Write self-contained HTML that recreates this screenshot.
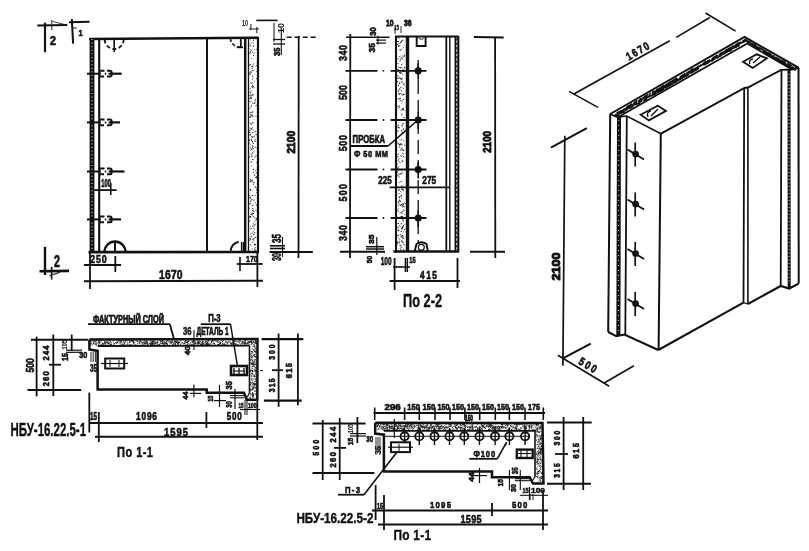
<!DOCTYPE html>
<html><head><meta charset="utf-8"><style>
html,body{margin:0;padding:0;background:#fff;width:809px;height:551px;overflow:hidden}
svg{display:block;will-change:transform}
text{font-family:"Liberation Sans",sans-serif;font-weight:bold;fill:#111;stroke:#111}
</style></head><body>
<svg width="809" height="551" viewBox="0 0 809 551" stroke="#111" stroke-linecap="butt">
<line x1="37.3" y1="25.4" x2="67.2" y2="25" stroke-width="2"/>
<line x1="45" y1="22.7" x2="45" y2="52.2" stroke-width="2.2"/>
<line x1="51.8" y1="20" x2="51.8" y2="30" stroke-width="0.9"/>
<line x1="52.7" y1="21.4" x2="64.5" y2="24.5" stroke-width="0.8"/>
<text transform="translate(50,44.5)" x="0" y="0" font-size="13.19" textLength="6.00" lengthAdjust="spacingAndGlyphs" stroke-width="0.6">2</text>
<line x1="69" y1="22.3" x2="89.5" y2="21.8" stroke-width="2"/>
<line x1="71.8" y1="19" x2="73.1" y2="43.6" stroke-width="2"/>
<line x1="73" y1="28" x2="77" y2="28" stroke-width="0.9"/>
<text transform="translate(78.6,36)" x="0" y="0" font-size="9.03" textLength="4.10" lengthAdjust="spacingAndGlyphs" stroke-width="0.6">1</text>
<line x1="89" y1="39" x2="258.5" y2="37.8" stroke-width="2.6"/>
<line x1="88.5" y1="252.2" x2="259" y2="252" stroke-width="2.7"/>
<rect x="89.6" y="38" width="4.800000000000011" height="214.5" fill="#111" stroke="none"/>
<line x1="92.0" y1="39" x2="92.0" y2="251.5" stroke="#fff" stroke-width="1.0" stroke-dasharray="1,2.6"/>
<line x1="99.2" y1="38" x2="99.2" y2="252" stroke-width="2.1"/>
<line x1="207" y1="38.5" x2="207" y2="252" stroke-width="2"/>
<line x1="245.2" y1="38" x2="245.2" y2="252" stroke-width="2.5"/>
<line x1="248.5" y1="38" x2="248.5" y2="252" stroke-width="1.3"/>
<path d="M251.8 71.4l0.5 -1.4M253.3 116.8l-1.4 0.0M249.8 131.2l-1.4 -1.3M252.5 214.4l-1.2 -0.9M253.9 239.9l0.2 -0.3M256.3 49.4l1.1 -0.7M250.5 64.4l-0.6 1.0M250.8 162.5l0.4 -0.4M253.3 52.8l-1.4 -0.9M254.3 129.9l-0.6 0.3M252.7 102.9l0.9 0.6M251.2 161.0l0.1 1.2M254.6 100.4l1.5 -1.2M252.4 199.6l-1.1 -0.0M249.8 180.8l0.8 0.2M255.6 105.9l0.6 0.3M253.6 136.0l1.1 1.4M252.8 180.0l-1.4 0.6M254.0 249.5l1.0 -0.7M252.2 180.9l-1.5 -0.1M250.7 64.3l-1.4 0.9M250.4 91.9l-0.3 1.2M250.1 134.5l0.2 1.2M255.2 222.2l-0.7 -0.3M252.0 226.5l1.5 -1.1M250.7 88.6l-0.9 -0.0M253.6 95.1l-1.6 -0.3M252.1 159.3l1.4 0.6M253.1 170.1l0.6 -1.4M255.8 204.5l1.2 1.0M252.2 123.9l-1.3 0.4M249.9 53.7l-0.9 -1.1M251.9 50.6l-1.6 -1.1M250.2 116.4l-1.5 1.2M253.8 70.9l-0.8 -0.5M252.0 65.5l1.1 1.6M252.8 141.8l-1.3 -1.3M251.9 95.5l1.1 -1.1M249.7 240.6l0.1 -1.1M253.3 45.2l0.1 1.5M255.5 186.7l-0.8 -0.4M250.7 202.8l0.1 0.9M251.8 86.7l1.0 1.6M255.5 210.0l1.0 0.8M251.1 149.0l-0.5 -1.5M249.7 98.6l-0.8 0.6M256.2 134.1l1.4 1.6M256.2 116.6l-0.9 -0.9M250.9 82.7l0.4 1.3M255.4 140.9l0.5 1.0M250.1 179.2l1.3 0.9M254.8 140.6l-1.0 0.9M251.8 208.9l1.5 -0.3M252.3 239.7l0.7 -1.1M250.4 71.5l1.3 1.0M250.5 214.3l1.5 0.5M252.0 155.5l-1.2 -1.6M256.3 176.9l0.1 1.4M252.5 223.9l1.0 -0.9M251.3 101.5l-0.8 0.3M251.3 128.1l-1.2 1.3M252.0 136.4l0.3 1.3M252.4 233.6l0.0 0.1M253.2 43.5l-0.2 -1.0M249.5 208.5l-1.0 -0.1M254.6 157.2l-0.6 0.1M253.4 205.4l-1.3 0.2M251.2 98.1l0.9 0.0M253.4 200.2l1.3 -0.2M253.8 146.4l0.0 0.6M252.7 152.3l-0.1 1.4M254.4 224.9l1.4 -0.8M253.4 239.0l1.1 -1.2M250.4 133.0l-1.4 -0.8M250.0 181.1l0.9 1.3M250.6 191.0l0.5 -1.1M255.7 244.1l-0.9 1.4M252.3 142.6l1.6 1.1M250.6 130.8l0.0 -0.5M250.9 106.9l0.7 -1.5M253.4 132.7l-1.5 -0.5M253.9 147.8l-1.4 1.6M255.0 245.0l-1.3 -0.8M249.8 204.3l-0.7 -1.2M252.5 232.3l1.0 -0.8M250.5 233.9l0.2 0.6M250.1 51.7l0.6 -0.2M250.0 238.0l0.4 1.0M250.1 220.6l-1.4 1.2M252.7 111.2l0.2 1.4M251.4 66.8l0.1 -0.8M250.3 73.6l-1.4 -1.0M251.7 104.0l0.8 -0.7M253.0 77.1l-0.5 -1.5M251.3 42.7l0.7 0.2M250.8 139.9l1.4 -1.3M255.2 130.9l-0.0 1.1M252.3 146.7l0.6 1.5M251.9 215.5l0.7 0.4M252.3 113.0l-1.4 -1.2M250.0 196.2l-0.8 -1.1M250.1 217.4l1.2 0.5M251.5 90.7l-0.7 -0.1M250.6 133.8l-0.8 1.5M256.3 155.2l-0.8 1.5M251.7 114.9l-1.6 -0.4M252.8 145.8l-1.0 0.0M249.5 95.4l-1.3 -0.3M249.8 44.3l-0.6 -0.9M253.6 151.4l0.8 0.5M254.5 225.4l-0.4 -0.6M256.4 71.1l0.7 0.5M249.8 216.2l1.3 0.4M254.6 211.3l-1.2 0.1M253.0 216.1l1.0 1.0M253.6 228.3l0.6 0.6M251.1 46.1l-1.2 -0.4M250.2 216.3l0.2 0.4M253.9 183.5l-0.0 -1.6M255.1 197.8l0.0 0.1M254.1 53.5l0.8 -0.8M250.0 95.7l0.7 -0.9M254.7 245.9l-0.0 -0.4M252.9 184.1l0.9 0.4M254.0 55.9l-1.1 -0.8M254.7 103.9l0.2 -1.6M249.9 96.3l0.6 0.6M254.2 101.0l0.1 -0.1M252.8 64.6l1.3 -1.0M256.3 237.5l-1.5 -0.1M255.2 244.3l-0.2 -0.7M251.0 239.5l-0.9 0.3M250.5 150.3l1.4 -1.2M255.2 147.1l1.2 0.7M251.1 229.4l-0.0 -1.5M249.5 143.5l-0.2 -0.6M250.5 112.2l-0.6 1.1M249.5 198.3l1.1 -1.2M256.0 190.3l1.3 -0.7M252.1 122.6l1.6 0.3M252.0 130.0l-0.7 -1.4M250.2 216.0l-0.7 1.4M251.2 95.7l0.0 -1.0M252.1 241.7l1.2 1.0M253.9 232.7l1.4 0.2M254.5 50.0l0.7 -0.2M254.8 175.8l-0.7 -1.4M256.0 66.4l-0.1 -0.5M251.6 195.8l1.5 -0.8M254.1 103.1l0.2 -0.3M250.7 73.7l-0.9 1.3M253.0 86.0l1.3 1.6M252.6 69.0l-1.0 -1.3M251.9 58.8l-0.8 -0.8M253.5 227.2l0.8 -0.3M252.4 150.4l-0.4 -0.5M249.9 98.2l1.5 -1.2M253.0 172.7l1.2 -0.9M251.4 92.0l-0.3 -0.2M256.2 219.0l1.2 -1.5M249.7 189.6l1.3 -0.1M253.6 39.5l-0.3 1.4M255.3 220.4l1.5 -0.8M250.3 72.2l0.1 0.6M256.1 192.1l0.5 0.8M252.7 156.1l-1.5 0.9M251.1 234.1l0.5 -0.6M250.4 92.8l0.4 0.6M250.3 54.4l0.1 0.3M252.2 86.8l0.3 -1.6M251.6 136.9l1.5 0.5M255.7 140.0l-0.8 -0.8M256.2 188.5l-0.6 -1.5M253.0 182.1l-0.3 -0.8M254.2 235.2l-0.9 -1.5M251.9 128.4l0.6 -1.0M255.1 195.8l0.0 -0.9M256.3 105.4l1.0 -0.9M251.1 200.3l-0.7 1.4M253.0 79.1l-0.9 -0.3M254.2 240.2l-1.1 -0.3M251.0 245.5l-1.1 -1.4M249.9 122.7l1.3 1.2M254.6 250.5l1.4 -0.5M250.8 237.4l0.8 -1.5M254.2 119.6l-0.4 -0.5M250.7 40.1l-0.7 -0.5M256.2 65.7l1.5 -0.9M252.0 213.3l1.0 -0.2M249.8 139.6l-0.4 1.3M250.9 116.5l1.3 -1.5M252.4 211.2l0.9 -1.5M249.7 52.7l1.3 -0.8M254.7 229.5l-0.5 -0.7M256.2 170.0l-0.8 0.7M251.7 97.8l-1.6 0.8M255.9 173.6l1.4 -1.5M251.1 140.0l1.5 1.5M252.2 92.6l-0.2 -0.0M256.0 78.2l1.0 0.8M255.3 202.9l0.3 -0.6M251.7 116.0l0.9 -1.3M250.9 198.7l-0.8 -1.4M249.7 156.4l-0.6 1.5M255.7 248.4l-0.8 -1.3M250.2 144.9l0.7 -0.2M251.1 127.7l0.4 0.6M254.7 218.6l0.5 -1.2M255.4 101.6l0.2 -0.4M254.7 81.6l-0.8 -0.8M250.6 226.5l0.3 -0.6M252.3 249.4l0.0 -0.9M255.2 177.7l1.6 -1.3M252.8 212.7l1.1 1.3M249.8 101.6l-1.2 -1.0M256.3 162.8l1.4 -0.4M255.6 134.5l-0.8 0.9M256.1 61.9l0.3 0.4M251.0 117.5l-1.1 -0.9M251.3 166.3l0.5 -0.9M249.6 108.7l0.6 -1.0M251.7 82.5l0.9 0.2" stroke-width="0.9" fill="none"/>
<line x1="258" y1="37" x2="258" y2="253" stroke-width="2.2"/>
<path d="M104.7,39.5 A9.5,9.5 0 0 0 123.7,39.5" fill="none" stroke-width="1.8" stroke-dasharray="4,2.5"/>
<line x1="114.2" y1="39" x2="114.2" y2="52" stroke-width="1.6"/>
<path d="M104.5,252 A10.5,10.5 0 0 1 125.5,252" fill="none" stroke-width="2.3" />
<line x1="115" y1="241.8" x2="115" y2="252" stroke-width="2"/>
<path d="M230.4,38.5 A10,9 0 0 0 240.2,47.3" fill="none" stroke-width="1.6" stroke-dasharray="3.5,2"/>
<line x1="240.8" y1="38" x2="240.8" y2="47.5" stroke-width="1.8"/>
<line x1="237" y1="47.3" x2="243" y2="47.3" stroke-width="1.8"/>
<path d="M230.6,252 A10,10 0 0 1 238.6,241.7" fill="none" stroke-width="2" />
<line x1="241.7" y1="242" x2="241.7" y2="252" stroke-width="1.6"/>
<line x1="243.5" y1="242" x2="243.5" y2="252" stroke-width="1.1"/>
<line x1="87" y1="73.7" x2="101" y2="73.7" stroke-width="2"/>
<line x1="110" y1="73.7" x2="121.7" y2="73.7" stroke-width="2.2"/>
<path d="M99.5,70.7 H104.5 M99.5,76.5 H104 M104.8,73.7 H106.3 M107,70.7 H110 Q111.6,70.7 111.6,72.2 V75.0 Q111.6,76.5 110,76.5 H107 M108.5,73.7 H111.5" fill="none" stroke-width="2" />
<line x1="87" y1="122.4" x2="101" y2="122.4" stroke-width="2"/>
<line x1="110" y1="122.4" x2="120" y2="122.4" stroke-width="2.2"/>
<path d="M99.5,119.4 H104.5 M99.5,125.2 H104 M104.8,122.4 H106.3 M107,119.4 H110 Q111.6,119.4 111.6,120.9 V123.7 Q111.6,125.2 110,125.2 H107 M108.5,122.4 H111.5" fill="none" stroke-width="2" />
<line x1="87" y1="171.5" x2="101" y2="171.5" stroke-width="2"/>
<line x1="110" y1="171.5" x2="124.5" y2="171.5" stroke-width="2.2"/>
<path d="M99.5,168.5 H104.5 M99.5,174.3 H104 M104.8,171.5 H106.3 M107,168.5 H110 Q111.6,168.5 111.6,170.0 V172.8 Q111.6,174.3 110,174.3 H107 M108.5,171.5 H111.5" fill="none" stroke-width="2" />
<line x1="87" y1="219.4" x2="101" y2="219.4" stroke-width="2"/>
<line x1="110" y1="219.4" x2="121" y2="219.4" stroke-width="2.2"/>
<path d="M99.5,216.4 H104.5 M99.5,222.20000000000002 H104 M104.8,219.4 H106.3 M107,216.4 H110 Q111.6,216.4 111.6,217.9 V220.70000000000002 Q111.6,222.20000000000002 110,222.20000000000002 H107 M108.5,219.4 H111.5" fill="none" stroke-width="2" />
<text transform="translate(101.3,187.2)" x="0" y="0" font-size="10.00" textLength="9.50" lengthAdjust="spacingAndGlyphs" stroke-width="0.6">100</text>
<line x1="94.4" y1="190.1" x2="116.6" y2="190.1" stroke-width="1.8"/>
<line x1="110.8" y1="183" x2="110.8" y2="195" stroke-width="1.6"/>
<line x1="84" y1="265" x2="121" y2="265" stroke-width="1.8"/>
<line x1="90" y1="253" x2="90" y2="289" stroke-width="1.8"/>
<line x1="115.3" y1="256" x2="115.3" y2="272" stroke-width="1.8"/>
<text transform="translate(90.3,263.3) scale(0.8,1)" x="0.00" y="0" font-size="10.97" textLength="20.37" lengthAdjust="spacing" stroke-width="0.6">250</text>
<line x1="84" y1="281.3" x2="263" y2="280.7" stroke-width="1.9"/>
<line x1="257.4" y1="252" x2="257.4" y2="287" stroke-width="1.8"/>
<text transform="translate(159,279) scale(0.8,1)" x="0.00" y="0" font-size="12.92" textLength="29.50" lengthAdjust="spacing" stroke-width="0.6">1670</text>
<line x1="236.7" y1="264" x2="262.7" y2="264" stroke-width="1.8"/>
<line x1="240" y1="257" x2="240" y2="271" stroke-width="1.6"/>
<text transform="translate(246,261.5)" x="0" y="0" font-size="9.44" textLength="11.80" lengthAdjust="spacingAndGlyphs" stroke-width="0.6">170</text>
<line x1="298.7" y1="36" x2="298.5" y2="258" stroke-width="1.8"/>
<line x1="286.7" y1="37.3" x2="317" y2="37.3" stroke-width="1.4" stroke-dasharray="5,3"/>
<line x1="269.5" y1="252" x2="312.8" y2="252" stroke-width="2"/>
<text transform="translate(295.4,153.6) rotate(-90)" x="0" y="0" font-size="11.39" textLength="22.70" lengthAdjust="spacingAndGlyphs" stroke-width="0.9">2100</text>
<line x1="256.3" y1="20.4" x2="277.6" y2="20.4" stroke-width="1.6"/>
<text transform="translate(242,26)" x="0" y="0" font-size="9.72" textLength="6.00" lengthAdjust="spacingAndGlyphs" stroke-width="0">10</text>
<line x1="250.9" y1="24" x2="250.9" y2="30" stroke-width="1"/>
<line x1="256.8" y1="27" x2="256.8" y2="33" stroke-width="1"/>
<line x1="249" y1="29" x2="259" y2="29" stroke-width="0.9"/>
<line x1="274" y1="23" x2="274" y2="42" stroke-width="1"/>
<line x1="281.3" y1="28" x2="281.3" y2="55" stroke-width="1.1"/>
<line x1="273" y1="39.5" x2="285" y2="39.5" stroke-width="1.3"/>
<line x1="273" y1="44" x2="285" y2="44" stroke-width="1.3"/>
<text transform="translate(280,56) rotate(-90)" x="0" y="0" font-size="9.72" textLength="8.50" lengthAdjust="spacingAndGlyphs" stroke-width="0.6">35</text>
<text transform="translate(284,33) rotate(-90)" x="0" y="0" font-size="9.72" textLength="10.00" lengthAdjust="spacingAndGlyphs" stroke-width="0">10</text>
<text transform="translate(281,243) rotate(-90)" x="0" y="0" font-size="12.50" textLength="9.00" lengthAdjust="spacingAndGlyphs" stroke-width="0.6">35</text>
<text transform="translate(281,261) rotate(-90)" x="0" y="0" font-size="12.50" textLength="8.00" lengthAdjust="spacingAndGlyphs" stroke-width="0.6">30</text>
<line x1="282.5" y1="237" x2="282.5" y2="257" stroke-width="1.1"/>
<line x1="270" y1="245.8" x2="285" y2="245.8" stroke-width="1.6"/>
<line x1="270" y1="248.5" x2="285" y2="248.5" stroke-width="1.6"/>
<line x1="45" y1="246.8" x2="45" y2="275" stroke-width="2.4"/>
<line x1="39.5" y1="271.3" x2="69" y2="270.9" stroke-width="2.6"/>
<line x1="51.6" y1="266.8" x2="51.6" y2="279.5" stroke-width="1.6"/>
<line x1="49.5" y1="275.8" x2="60" y2="272.2" stroke-width="1.2"/>
<text transform="translate(54,267.2)" x="0" y="0" font-size="15.69" textLength="6.00" lengthAdjust="spacingAndGlyphs" stroke-width="0.6">2</text>
<line x1="395" y1="36.5" x2="458.4" y2="36.5" stroke-width="2.2"/>
<line x1="393.4" y1="251.5" x2="458.5" y2="251.5" stroke-width="2.5"/>
<line x1="396" y1="36" x2="396" y2="252.5" stroke-width="2.1"/>
<path d="M397.7 59.5l-0.3 0.2M401.9 57.4l-1.1 0.6M400.2 98.2l-0.6 1.5M399.5 158.4l-0.5 -0.3M403.5 249.8l-0.4 -1.0M402.5 81.3l-1.6 1.3M400.3 212.3l-0.3 1.2M400.6 72.5l-1.6 0.2M401.9 231.3l-1.3 0.4M399.9 145.2l-1.1 -0.7M401.0 234.7l-1.3 -0.0M403.1 243.5l-1.0 -1.2M404.1 245.3l-0.1 -1.4M404.0 120.4l1.3 0.4M403.2 72.1l0.9 -0.9M400.2 217.8l1.1 -1.0M398.8 122.9l0.1 -0.4M398.1 90.5l0.7 1.3M397.5 157.5l0.8 -1.5M403.3 63.0l0.3 0.2M401.8 103.1l-0.3 0.3M400.3 178.0l-0.2 -0.2M397.4 169.5l-0.0 -0.8M402.8 203.7l-0.1 -1.0M400.7 60.8l-1.2 -0.2M397.9 131.9l0.0 -1.5M401.8 55.5l0.7 0.9M400.9 49.5l0.0 -0.4M404.1 66.9l1.1 1.6M402.5 211.2l-1.0 1.5M400.8 241.3l1.3 -1.1M403.0 235.7l-1.4 -0.5M402.7 71.7l1.3 -0.7M403.2 68.5l0.0 1.3M398.7 93.9l0.0 -0.6M397.5 76.7l-1.1 1.4M402.2 228.3l-1.1 0.9M398.0 150.8l0.4 -0.4M403.6 156.0l0.3 1.2M398.0 249.0l0.4 -0.3M403.0 94.3l1.6 0.2M399.8 200.5l-0.2 -1.0M402.6 48.3l1.0 -0.8M401.9 247.1l0.3 0.5M399.5 38.4l-1.5 -1.1M401.7 129.8l0.0 1.3M398.2 86.3l0.5 -1.5M397.2 113.4l-1.3 -0.5M398.8 162.0l0.3 -0.9M401.8 138.9l-1.2 1.4M399.0 69.7l-1.3 0.4M403.6 204.2l-0.3 -0.8M397.3 175.1l0.2 -0.5M401.9 132.3l1.4 0.7M399.0 230.0l-1.5 0.1M400.2 88.5l-1.4 0.9M397.3 155.1l1.4 -1.1M398.7 167.2l0.0 0.5M403.1 75.1l-0.6 -0.6M397.6 227.0l0.9 0.7M397.2 217.4l0.8 -0.1M402.6 134.2l-0.9 -1.3M398.9 46.2l-0.5 0.8M402.3 217.6l0.7 -0.7M401.2 130.7l0.9 0.1M399.1 174.4l1.5 -0.9M403.6 41.2l-0.8 -0.8M402.6 238.7l0.8 -0.6M403.6 107.8l-0.8 1.3M401.8 185.2l0.5 1.5M400.6 216.4l0.6 1.1M400.4 192.0l0.2 -0.6M398.7 170.3l-1.4 1.3M398.3 43.7l-1.3 1.4M399.7 68.1l-1.5 -1.5M402.3 172.7l0.6 0.8M397.7 163.5l-0.4 1.0M403.2 227.4l-1.4 1.2M403.9 238.7l-1.3 -0.9M398.0 45.3l1.1 1.0M401.8 213.3l0.4 -0.7M397.9 58.8l0.8 -0.9M399.5 128.1l-1.5 -0.8M399.3 190.1l-0.4 -0.6M404.2 145.0l1.1 0.4M397.4 125.7l-0.2 0.9M399.7 187.7l0.1 -0.9M403.5 57.3l1.0 -1.1M397.2 80.9l0.8 1.5M397.2 142.3l-0.0 0.9M398.5 143.1l-0.5 1.1M399.1 238.6l-0.7 -0.9M402.3 143.9l-1.2 0.4M397.8 205.4l0.6 0.9M401.8 113.6l-0.3 -0.3M403.7 56.3l1.2 -1.5M398.7 93.9l1.3 0.0M400.0 225.8l-0.9 -0.1M401.1 198.3l0.8 0.5M399.7 107.4l-1.1 1.1M402.0 195.7l-1.1 -0.2M402.8 161.1l-1.2 -0.1M403.7 88.6l-1.0 -0.6M402.3 217.3l-1.1 -1.1M399.0 107.4l0.1 -1.1M399.6 78.2l1.5 0.7M397.9 242.5l-1.3 -0.4M404.4 206.9l0.7 -0.2M398.6 173.6l-1.3 -0.9M400.0 45.2l-0.3 0.9M402.3 144.4l0.4 -0.1M398.2 166.3l-0.3 0.8M403.8 129.4l0.2 0.8M400.3 86.6l0.7 1.2M402.9 186.8l1.1 0.6M401.9 134.5l-0.6 0.4M397.9 127.2l0.9 0.7M401.8 91.1l-0.2 -0.1M401.7 125.0l0.6 1.4M398.5 177.1l0.9 -0.4M400.8 245.1l-1.5 0.1M398.4 204.1l1.4 0.1M397.9 160.1l0.1 0.7M400.9 173.8l1.1 0.1M400.2 239.4l-0.9 0.6M400.1 200.1l-1.2 1.6M399.8 50.0l-0.7 -0.3M397.3 126.9l-0.3 0.6M399.8 94.3l-0.9 0.8M404.1 150.0l-0.9 1.0M400.1 83.1l-1.2 0.9M403.1 172.8l-0.1 0.2M398.8 242.8l-0.5 0.4M403.2 211.4l-0.1 -0.7M401.2 64.6l1.1 -0.5M403.4 94.8l-0.4 -0.8M400.3 77.5l-1.6 0.7M399.3 90.1l-0.6 -0.1M400.3 173.4l0.5 -0.4M404.0 219.6l-1.4 1.0M403.8 204.6l-1.2 1.1M401.8 41.2l-1.6 1.4M402.0 91.1l-1.3 -1.1M398.9 203.0l-0.5 -1.1M403.8 206.2l-1.1 1.3M401.6 204.0l0.5 1.3M403.0 216.2l-1.0 0.6M401.1 195.7l-0.2 1.2M401.3 94.2l-0.9 -1.2M400.8 50.4l-0.1 -1.1M400.8 143.9l0.1 1.2M397.2 216.7l-0.1 0.2M402.1 216.6l-0.4 -0.3M404.2 54.0l0.4 0.4M397.4 167.6l0.6 1.4M399.6 246.6l0.0 -0.0M403.8 45.2l0.7 0.4M399.7 221.1l-0.4 -0.1M401.0 201.7l-0.9 -0.2M400.3 155.7l1.0 -0.7M403.2 123.8l0.0 -0.7M400.9 245.2l0.5 0.9M399.6 105.4l-0.6 0.3M401.8 204.6l-1.5 0.7M403.7 153.9l-1.4 -0.6M397.2 78.4l1.3 0.3M402.0 205.7l1.3 0.4M401.7 171.2l0.6 0.3M402.2 83.2l0.5 -0.1M402.8 59.5l-1.0 -1.5M402.9 232.2l0.5 -0.4M403.2 205.1l0.2 -0.8M399.4 127.6l-0.6 -0.2M401.9 236.4l-1.4 0.2M397.5 63.3l1.0 0.2M403.9 132.9l-1.6 -0.4M401.5 237.3l1.5 -0.1M400.2 59.7l0.5 -0.9M398.3 41.3l-1.6 0.6M398.1 243.3l-1.3 1.2M398.1 41.8l0.7 -0.8M402.6 77.8l-1.4 0.9M402.4 219.8l0.7 -1.3M401.8 188.7l-0.1 1.4M399.1 242.9l0.7 -1.6M397.3 176.3l1.0 -1.3M399.5 193.0l-1.1 1.2M400.8 50.7l-0.4 0.2M400.4 181.8l-1.1 1.0M399.9 175.0l0.4 -0.3M400.0 205.1l1.4 0.9M401.3 100.1l-1.4 1.5M402.3 213.8l-0.5 0.3M404.3 214.6l0.3 -0.6M400.3 226.7l-0.4 0.6M401.6 228.4l1.0 -0.7M397.2 93.9l-0.2 0.3M403.2 226.6l-1.5 1.1M403.1 222.3l0.2 -0.7M403.4 209.5l0.6 1.3M399.7 56.1l0.2 1.0M398.7 197.4l1.4 -0.9M401.6 182.0l-0.1 -0.9M399.1 197.6l0.9 -0.1M397.8 209.4l0.9 -0.9M401.4 228.6l1.2 0.1M400.7 163.2l-1.0 -1.0M398.5 187.0l-0.4 0.2M400.1 147.9l-1.1 -1.5M404.5 117.5l-1.3 0.4M402.9 71.2l0.3 -0.5M401.0 42.4l-1.5 1.6M403.5 141.3l0.2 -0.8M402.9 128.5l1.4 0.9M403.2 242.7l-0.8 -1.5M398.7 76.4l-1.3 -1.4M401.3 223.0l-0.1 1.4M403.8 51.6l0.3 -0.3M398.1 241.9l-0.8 0.2M401.9 241.2l0.5 -0.3M400.5 71.9l1.5 1.6M398.8 46.2l-0.8 -0.5M403.8 230.2l1.1 -1.4M402.9 188.8l0.5 1.6M397.6 68.8l0.8 1.4M402.1 101.5l0.3 0.8M398.0 106.8l-0.8 -1.2M400.7 73.8l-0.8 -1.1M402.1 40.7l0.7 -1.0M397.5 235.1l-0.9 1.4M403.5 226.9l-1.2 -0.2M397.9 235.4l1.1 0.4M400.5 110.2l1.0 -0.1M401.8 68.3l-0.9 -1.4M402.4 155.6l-1.1 1.2M399.1 125.5l-1.1 -0.7M403.3 109.1l-1.1 -0.0M399.5 229.9l-1.2 1.5M397.6 228.2l0.5 -0.9M400.7 98.8l-0.8 -1.0M399.9 248.6l1.6 1.4M397.9 99.5l1.3 -1.4M402.5 100.4l1.5 -1.5M403.1 110.4l-1.2 -1.6M403.3 149.9l-1.0 -0.2M403.9 84.4l0.2 -1.2M398.5 201.7l0.7 -1.0M397.8 56.6l0.3 -0.0M399.2 81.8l0.4 0.7M403.1 161.9l-1.0 -1.4M402.5 124.7l0.7 -1.4M403.1 109.2l1.1 1.2M400.8 41.3l1.3 -0.1M403.6 94.6l-1.0 1.1M399.9 72.7l-0.4 0.3M397.2 148.5l-0.2 0.1M398.1 189.9l1.0 1.2M399.5 189.1l-0.4 0.8M397.6 223.5l1.5 -0.0M400.9 150.7l0.1 -1.5M404.3 85.5l-1.0 -1.3M399.0 211.6l-1.5 -1.3M402.3 79.5l-1.5 0.3M401.4 149.1l0.6 -1.3M403.5 190.4l-1.5 -1.2M400.8 144.4l-0.7 -1.2M400.2 67.1l0.3 1.2M398.3 159.7l0.8 -1.1M403.2 237.2l-0.4 -0.3M403.3 149.7l-0.3 1.4M402.9 109.9l-0.8 -0.5M400.4 246.5l1.0 1.3M403.1 218.1l-1.4 0.1M404.2 236.5l-0.8 -0.2M401.8 115.4l0.1 -1.4M400.4 145.3l-1.5 -1.2M404.3 203.0l1.4 0.4M403.1 225.9l1.2 -1.5M401.9 94.5l0.6 -0.7" stroke-width="0.9" fill="none"/>
<line x1="407.5" y1="36.5" x2="407.5" y2="251.5" stroke-width="3.4"/>
<line x1="446.3" y1="36.5" x2="446.3" y2="251.5" stroke-width="1.8"/>
<line x1="449.8" y1="36.5" x2="449.8" y2="251.5" stroke-width="1.4"/>
<line x1="455.4" y1="36.5" x2="455.4" y2="251.5" stroke-width="1.8"/>
<line x1="458.3" y1="36" x2="458.3" y2="252.5" stroke-width="2.1"/>
<line x1="456.9" y1="38" x2="456.9" y2="250" stroke-width="1.2" stroke-dasharray="2.5,2"/>
<line x1="350.3" y1="34" x2="350" y2="258" stroke-width="1.8"/>
<line x1="346" y1="37.3" x2="389.5" y2="37.3" stroke-width="1.6"/>
<line x1="345.5" y1="70.8" x2="377.5" y2="70.8" stroke-width="1.8"/>
<line x1="390.6" y1="70.8" x2="426.5" y2="70.8" stroke-width="1.8"/>
<circle cx="418.2" cy="70.8" r="3" fill="#111" stroke-width="1.2"/>
<line x1="418.2" y1="63.3" x2="418.2" y2="79.8" stroke-width="1.6"/>
<circle cx="383.5" cy="70.8" r="0.9" fill="#111" stroke="none"/>
<line x1="345.5" y1="120" x2="377.5" y2="120" stroke-width="1.8"/>
<line x1="390.6" y1="120" x2="426.5" y2="120" stroke-width="1.8"/>
<circle cx="418.2" cy="120" r="3" fill="#111" stroke-width="1.2"/>
<line x1="418.2" y1="112.5" x2="418.2" y2="129" stroke-width="1.6"/>
<circle cx="383.5" cy="120" r="0.9" fill="#111" stroke="none"/>
<line x1="345.5" y1="169.5" x2="377.5" y2="169.5" stroke-width="1.8"/>
<line x1="390.6" y1="169.5" x2="426.5" y2="169.5" stroke-width="1.8"/>
<circle cx="418.2" cy="169.5" r="3" fill="#111" stroke-width="1.2"/>
<line x1="418.2" y1="162.0" x2="418.2" y2="178.5" stroke-width="1.6"/>
<circle cx="383.5" cy="169.5" r="0.9" fill="#111" stroke="none"/>
<line x1="345.5" y1="218" x2="377.5" y2="218" stroke-width="1.8"/>
<line x1="390.6" y1="218" x2="426.5" y2="218" stroke-width="1.8"/>
<circle cx="418.2" cy="218" r="3" fill="#111" stroke-width="1.2"/>
<line x1="418.2" y1="210.5" x2="418.2" y2="227" stroke-width="1.6"/>
<circle cx="383.5" cy="218" r="0.9" fill="#111" stroke="none"/>
<line x1="340" y1="251.8" x2="385" y2="251.8" stroke-width="2"/>
<line x1="418.2" y1="60" x2="418.2" y2="243" stroke-width="1.3" stroke-dasharray="14,6"/>
<path d="M416.7,37 L416.7,46 L425.6,46 L425.6,37" fill="none" stroke-width="1.9" />
<path d="M418.5,37.5 A3,3 0 0 0 424,37.5" fill="none" stroke-width="1" />
<path d="M414.5,252 L416.5,244 Q421.5,240.5 426.5,244 L428,252" fill="none" stroke-width="1.9" />
<circle cx="421.3" cy="247.3" r="3" fill="none" stroke-width="1.2"/>
<text transform="translate(347.2,61) rotate(-90) scale(0.8,1)" x="0.00" y="0" font-size="11.11" textLength="20.00" lengthAdjust="spacing" stroke-width="0.6">340</text>
<text transform="translate(347.2,100) rotate(-90)" x="0" y="0" font-size="11.11" textLength="15.00" lengthAdjust="spacingAndGlyphs" stroke-width="0.6">500</text>
<text transform="translate(347.2,151.3) rotate(-90) scale(0.8,1)" x="0.00" y="0" font-size="11.11" textLength="20.38" lengthAdjust="spacing" stroke-width="0.6">500</text>
<text transform="translate(347.2,201.6) rotate(-90) scale(0.8,1)" x="0.00" y="0" font-size="11.11" textLength="22.00" lengthAdjust="spacing" stroke-width="0.6">500</text>
<text transform="translate(347.2,241) rotate(-90) scale(0.8,1)" x="0.00" y="0" font-size="11.11" textLength="20.00" lengthAdjust="spacing" stroke-width="0.6">340</text>
<text transform="translate(352.6,143.3)" x="0" y="0" font-size="10.14" textLength="32.40" lengthAdjust="spacingAndGlyphs" stroke-width="0.6">ПРОБКА</text>
<line x1="350" y1="146" x2="388" y2="146" stroke-width="1.8"/>
<line x1="388" y1="146" x2="418" y2="120" stroke-width="1.6"/>
<text transform="translate(354,156.7) scale(0.8,1)" x="0.00" y="0" font-size="9.31" textLength="42.50" lengthAdjust="spacing" stroke-width="0.6">Ф 50 ММ</text>
<text transform="translate(378.3,183.9)" x="0" y="0" font-size="10.00" textLength="13.40" lengthAdjust="spacingAndGlyphs" stroke-width="0.6">225</text>
<text transform="translate(422.3,183.9)" x="0" y="0" font-size="10.83" textLength="13.90" lengthAdjust="spacingAndGlyphs" stroke-width="0.6">275</text>
<line x1="389.5" y1="187.3" x2="449.5" y2="187.3" stroke-width="1.8"/>
<text transform="translate(491.4,152.7) rotate(-90)" x="0" y="0" font-size="11.25" textLength="21.70" lengthAdjust="spacingAndGlyphs" stroke-width="0.9">2100</text>
<line x1="495.1" y1="36.9" x2="495.3" y2="258" stroke-width="1.8"/>
<line x1="473.9" y1="36.9" x2="503.6" y2="37.5" stroke-width="2"/>
<line x1="470" y1="251.8" x2="505" y2="251.8" stroke-width="2"/>
<text transform="translate(386,25.8)" x="0" y="0" font-size="9.44" textLength="7.60" lengthAdjust="spacingAndGlyphs" stroke-width="0.8">10</text>
<text transform="translate(394,30)" x="0" y="0" font-size="6.94" textLength="5.00" lengthAdjust="spacingAndGlyphs" stroke-width="0.3">15</text>
<text transform="translate(404,26.3)" x="0" y="0" font-size="8.75" textLength="7.60" lengthAdjust="spacingAndGlyphs" stroke-width="0.8">36</text>
<line x1="395" y1="27" x2="395" y2="34" stroke-width="0.9"/>
<line x1="401" y1="26" x2="401" y2="33" stroke-width="0.9"/>
<text transform="translate(375.6,35.7) rotate(-90)" x="0" y="0" font-size="8.19" textLength="8.40" lengthAdjust="spacingAndGlyphs" stroke-width="0.6">30</text>
<text transform="translate(375.1,52.5) rotate(-90)" x="0" y="0" font-size="8.89" textLength="9.40" lengthAdjust="spacingAndGlyphs" stroke-width="0.6">35</text>
<line x1="378" y1="35.7" x2="378" y2="44.6" stroke-width="1.2"/>
<line x1="376" y1="40.1" x2="386" y2="40.1" stroke-width="1.2"/>
<line x1="376" y1="43.1" x2="386" y2="43.1" stroke-width="1.2"/>
<text transform="translate(373.7,244.1) rotate(-90)" x="0" y="0" font-size="7.08" textLength="9.50" lengthAdjust="spacingAndGlyphs" stroke-width="0.6">35</text>
<text transform="translate(372.4,263.2) rotate(-90)" x="0" y="0" font-size="7.08" textLength="7.60" lengthAdjust="spacingAndGlyphs" stroke-width="0.6">50</text>
<line x1="376.8" y1="237" x2="376.8" y2="255" stroke-width="1.2"/>
<line x1="366" y1="246.7" x2="384" y2="246.7" stroke-width="1.5"/>
<line x1="366" y1="249" x2="384" y2="249" stroke-width="1.5"/>
<text transform="translate(380.7,265.1)" x="0" y="0" font-size="11.53" textLength="10.80" lengthAdjust="spacingAndGlyphs" stroke-width="0.6">100</text>
<text transform="translate(409.3,263.2)" x="0" y="0" font-size="8.89" textLength="6.30" lengthAdjust="spacingAndGlyphs" stroke-width="0.6">15</text>
<line x1="393" y1="267" x2="410" y2="267" stroke-width="1.6"/>
<line x1="405.4" y1="258" x2="405.4" y2="272" stroke-width="1.5"/>
<line x1="407.3" y1="258" x2="407.3" y2="272" stroke-width="1.5"/>
<line x1="389.6" y1="281" x2="460" y2="281" stroke-width="2"/>
<line x1="394.6" y1="258" x2="394.6" y2="290" stroke-width="1.8"/>
<line x1="457.5" y1="258" x2="457.5" y2="288" stroke-width="1.8"/>
<text transform="translate(420,278.5) scale(0.8,1)" x="0.00" y="0" font-size="10.42" textLength="21.25" lengthAdjust="spacing" stroke-width="0.6">415</text>
<text transform="translate(403,307)" x="0" y="0" font-size="18.06" textLength="39.00" lengthAdjust="spacingAndGlyphs" stroke-width="0.4">По 2-2</text>
<polyline points="610.2,114 744.5,37 798.9,67.9" fill="none" stroke-width="2.0"/>
<polyline points="617.5,117.5 747.2,43.5 792,69.5" fill="none" stroke-width="1.8"/>
<path d="M686.5 75.8l2.7 -1.9M682.5 76.4l3.4 -2.3M654.8 93.1l1.6 -0.7M739.9 43.6l1.9 -1.1M683.6 74.7l1.6 -1.5M652.6 93.4l1.9 -1.5M626.0 109.3l3.1 -1.6M689.5 73.1l1.7 -0.7M674.9 81.1l2.6 -1.5M654.3 91.8l1.8 -1.0M664.9 87.1l1.3 -1.0M727.1 50.2l2.5 -1.4M653.2 95.4l1.9 -0.7M633.6 102.9l3.2 -1.9M622.0 110.9l2.3 -0.9M627.7 106.9l3.4 -1.5M634.0 103.8l2.1 -0.9M696.0 70.0l3.1 -1.7M711.8 60.6l3.0 -1.7M717.7 57.0l3.3 -2.5M728.0 49.0l3.0 -1.5M680.8 79.2l2.5 -1.6M717.9 57.5l2.6 -1.7M673.6 81.6l2.9 -2.0M665.8 86.4l2.1 -1.5M718.3 57.1l2.4 -1.4M637.8 101.5l1.6 -0.8M689.8 71.0l3.3 -2.2M725.6 52.9l3.4 -2.4M671.4 84.5l1.3 -1.5M688.5 73.1l3.3 -1.4M686.2 76.2l2.4 -1.4M704.1 63.8l2.1 -1.0M661.7 90.3l2.8 -1.5M626.8 108.1l2.2 -1.1M690.6 73.3l3.4 -2.0M672.4 82.8l3.5 -2.2M684.7 76.5l1.7 -1.2M743.2 42.6l2.4 -2.0M732.1 48.7l3.1 -1.0M730.8 48.6l1.6 -1.3M681.5 77.2l1.7 -1.5M697.3 68.5l2.1 -0.4M696.9 66.7l2.2 -0.8M655.1 93.1l1.3 -1.1M725.0 52.4l2.8 -2.1M679.8 78.3l1.9 -0.8M685.3 76.8l2.6 -1.6M629.0 105.9l3.0 -2.3M626.2 107.5l2.4 -0.9M695.5 70.2l1.4 -1.6M715.2 57.2l2.9 -1.9M635.7 102.5l1.5 -0.2M690.4 71.5l2.3 -1.5M622.9 112.5l2.6 -0.7M672.4 82.9l1.8 -1.8M737.0 46.3l2.0 -0.5M721.1 53.8l2.6 -0.7M680.5 79.4l1.8 -1.2M708.1 60.9l2.0 -0.5M678.6 79.9l1.8 -1.6M660.5 88.1l3.4 -2.3M687.2 72.6l2.5 -1.6M666.1 84.4l1.6 -0.4M659.7 88.7l1.7 -1.3M643.9 96.9l2.7 -1.8M635.5 104.5l1.5 -1.2M723.4 51.9l2.3 -0.7M719.5 54.3l2.1 -0.8M665.1 88.4l1.8 -0.3M679.9 77.1l2.3 -1.9M706.6 61.9l3.3 -1.7M661.9 87.5l2.6 -2.0M728.3 49.1l2.4 -1.3M650.6 96.0l2.1 -1.0M688.4 72.5l2.2 -1.9M638.7 103.2l2.0 -0.9M628.8 107.7l2.1 -1.2M652.0 92.4l2.0 -1.6M631.6 106.8l1.9 -1.2M734.1 47.8l3.2 -1.3M630.9 105.3l1.4 -0.5M701.2 65.4l2.2 -1.0M705.7 62.5l3.1 -2.0M696.2 67.6l1.6 -0.2M711.1 60.8l1.4 -1.5M634.5 102.9l2.0 -1.3M618.7 112.4l2.7 -2.0M724.7 52.6l2.9 -2.0M671.9 83.4l2.1 -2.0M724.3 53.4l1.9 -1.8M726.6 51.5l1.4 -1.2M629.9 108.0l1.8 -0.3M712.0 58.3l2.8 -1.8M713.1 60.1l1.9 -1.7M738.5 44.2l3.3 -1.6M711.9 60.8l2.7 -1.6M622.1 112.1l2.2 -1.3M735.7 44.9l3.0 -2.4M707.2 63.4l1.9 -1.0M741.8 42.9l2.5 -1.8M621.6 111.0l2.2 -1.7M654.0 91.6l2.8 -1.3M644.7 97.3l2.4 -1.5M737.0 44.8l2.0 -0.5M633.1 105.2l2.0 -0.6M686.9 75.0l1.7 -0.7M692.8 70.5l3.0 -1.2M628.6 106.7l2.1 -1.7M621.4 110.8l1.7 -0.7M672.1 81.1l2.0 -1.2M661.0 87.7l1.5 -1.6M744.9 41.4l1.5 -0.5M743.1 41.9l1.5 -0.9M670.5 82.3l2.5 -2.2M735.3 46.7l2.7 -0.8M699.5 66.0l1.8 -1.6M618.9 114.3l3.1 -2.1M639.1 102.1l3.1 -1.1M637.4 103.7l3.1 -1.4M656.3 90.4l3.1 -2.0M662.8 88.1l2.1 -0.7M644.3 96.7l2.5 -1.2M722.3 54.4l3.3 -1.1M679.2 78.5l1.6 -1.3M689.7 71.0l2.8 -2.1M673.7 83.4l1.5 -1.6M671.2 81.9l2.9 -2.4M725.3 53.1l3.0 -1.8M652.0 94.8l2.4 -1.5M658.6 90.1l2.8 -1.0M732.6 46.8l1.9 -1.2M687.9 72.9l1.7 -1.6M656.7 91.3l3.4 -1.3M728.7 51.5l3.4 -1.7M720.1 53.6l2.8 -1.4M653.5 93.5l3.4 -1.9M698.9 66.5l2.1 -0.5M616.8 113.0l2.8 -1.7M626.0 109.7l2.1 -1.1M669.1 84.4l2.5 -1.6M628.2 106.5l3.2 -1.8M630.3 108.1l1.9 -1.7M683.4 75.2l2.4 -1.3M644.3 98.9l1.6 -0.9M690.6 70.4l2.2 -1.9M673.0 83.4l2.5 -1.1M713.0 57.8l3.5 -1.6M628.9 108.8l2.2 -1.8M740.5 43.5l3.0 -2.3M715.5 56.2l1.8 -1.2M616.6 114.9l1.8 -1.3M707.1 62.2l3.2 -1.6M728.9 50.1l3.3 -1.3M637.2 103.7l2.0 -0.7M704.3 65.1l1.6 -1.1M711.9 61.1l2.9 -2.4M692.7 69.3l2.5 -0.9M630.6 108.2l2.8 -2.0M639.5 101.1l3.1 -1.6M627.5 106.2l1.5 -0.4M638.8 101.9l1.9 -0.8M663.3 86.3l3.2 -1.8M705.5 64.4l3.4 -2.7M658.2 89.2l2.4 -0.8M718.7 54.3l1.7 -0.5M703.3 64.3l2.3 -1.9M725.1 51.8l3.2 -1.6M623.6 109.7l1.8 -0.4M690.7 70.3l1.7 -1.2M675.9 80.7l2.1 -1.5M615.4 115.5l2.0 -1.9M675.9 82.2l1.4 -1.4M702.0 64.6l1.9 -1.1M648.9 96.2l2.5 -0.7M744.1 39.9l2.5 -1.0M729.3 50.5l2.7 -1.3M661.3 87.9l3.0 -1.1M737.8 45.3l2.0 -0.7M711.4 60.0l2.7 -1.8M686.4 74.0l1.4 -1.1M658.2 92.5l2.4 -1.5M645.4 96.8l2.1 -1.8M616.6 116.1l2.3 -1.4M688.5 72.4l1.7 -1.6M653.3 92.6l2.9 -1.6M737.2 44.7l3.3 -1.7M623.6 109.1l2.6 -0.7M662.0 89.5l2.2 -0.7M623.1 110.7l3.3 -2.2M646.6 95.3l1.7 -1.3M706.3 62.0l2.2 -1.7M694.3 71.1l2.7 -2.0M711.5 61.4l2.6 -2.2M721.2 55.5l2.0 -1.7M639.1 101.7l3.2 -1.6M735.1 45.5l2.0 -0.7M699.3 66.6l2.8 -1.8M621.5 111.3l1.4 -0.6M658.2 90.5l2.6 -1.9M673.9 79.7l3.3 -1.8M743.5 40.3l2.6 -1.1M656.3 90.1l1.6 -1.5M714.4 57.0l3.1 -1.9M685.3 75.3l2.5 -1.2M692.9 70.0l2.9 -2.0M708.2 62.7l3.0 -2.0M716.6 58.5l2.3 -1.7M684.1 77.3l1.6 -1.7M677.2 80.2l3.0 -1.9M744.0 40.5l2.9 -2.3M616.6 112.9l1.4 -0.8M686.5 73.2l3.3 -2.1M632.8 103.8l2.9 -1.0M634.0 102.5l3.0 -2.1M743.3 41.6l2.7 -1.8M719.4 55.3l2.0 -0.5M629.3 108.2l1.4 -0.6M668.1 86.3l1.4 -0.7M669.3 85.8l3.4 -1.7M642.9 98.3l1.9 -1.2M643.7 97.7l3.0 -1.4M655.0 94.4l1.8 -0.9M636.1 104.8l3.2 -2.2M713.6 59.8l1.9 -1.4M679.0 80.0l1.7 -0.6M692.7 70.6l2.6 -0.8M643.1 100.8l2.1 -0.7M727.2 49.9l3.2 -1.0M651.9 92.3l1.5 -0.1M617.1 116.0l1.6 -0.5M625.9 107.7l2.8 -2.2M660.1 91.1l2.9 -1.0M742.4 40.8l1.8 -0.6M703.9 62.7l2.4 -1.8M669.8 82.4l1.3 0.0M657.0 92.7l1.6 -0.9M631.9 105.4l1.7 -0.7M634.5 105.2l2.4 -2.0M660.7 89.1l3.3 -2.1M644.1 100.6l3.2 -1.5M649.1 94.5l1.9 -1.8M620.0 112.6l2.2 -1.2M660.5 87.3l2.8 -1.3M685.9 74.8l2.8 -0.8M729.4 50.3l2.2 -1.5M670.6 85.2l2.1 -1.4M667.2 84.1l3.5 -2.8M695.1 70.8l1.9 -0.9M663.1 86.8l1.7 -1.6M725.5 52.8l3.3 -2.6M705.1 63.0l2.7 -1.5M657.1 93.0l1.3 -0.3M726.4 51.4l2.6 -0.7M645.5 98.4l2.9 -1.9M707.6 61.8l2.4 -1.2M702.9 64.3l2.7 -1.4M644.0 99.2l1.9 -0.4M677.0 80.6l2.4 -1.4M642.2 98.3l3.3 -1.8M683.2 76.3l3.1 -2.2M638.0 103.5l2.3 -1.1M723.6 54.2l3.2 -2.5M665.3 87.7l3.1 -2.4M633.6 103.6l1.5 -1.1M719.8 55.2l2.3 -2.0M667.6 87.0l2.8 -1.7M677.9 80.3l3.0 -2.2M703.4 64.2l2.4 -1.8M662.5 87.5l2.1 -2.0M640.9 100.8l1.4 -1.3M708.2 61.1l2.0 -1.6M723.2 51.9l2.7 -1.0M640.5 100.4l3.0 -1.5M661.8 86.7l2.3 -1.5M707.5 61.6l2.2 -1.0M720.6 54.3l2.1 -1.1M735.4 45.3l3.4 -1.6M663.7 88.1l2.0 -1.8M713.4 58.5l2.4 -1.4M733.0 48.3l1.4 -0.6M674.9 80.8l3.1 -1.9M677.5 80.9l2.3 -1.3M682.3 77.9l2.8 -1.2M665.8 84.5l2.8 -1.5M715.8 58.3l1.6 -1.3M625.6 110.7l1.5 -1.5M713.4 59.1l1.4 -0.5M707.7 62.1l1.4 -0.5M669.4 84.4l3.5 -1.5M728.3 49.2l2.0 -1.1M616.9 116.4l1.9 -1.5M654.7 91.6l3.2 -1.7M681.2 77.0l1.4 -1.1M728.6 51.0l3.2 -2.2M639.3 99.6l2.5 -1.6M675.2 80.7l2.6 -1.7M719.1 54.6l3.3 -1.8M620.3 111.5l2.5 -1.5M688.1 72.8l1.9 -0.6M653.2 94.3l3.0 -1.6M675.1 82.4l2.3 -0.7M621.6 111.3l2.7 -2.3M727.0 49.7l2.6 -2.0M735.5 46.3l3.0 -1.7M703.2 65.3l1.9 -1.6M723.9 51.7l3.3 -2.3M626.1 107.3l3.0 -1.0M669.2 84.8l1.9 -0.4M703.7 63.3l1.4 -0.5M621.0 113.4l1.9 -1.5M690.3 71.5l2.5 -2.0M733.8 46.6l3.1 -2.3M720.1 56.5l2.2 -2.0M664.6 87.4l1.8 -0.9M626.4 108.7l2.9 -1.8M702.7 63.7l3.1 -2.4M736.2 47.2l3.3 -1.9M652.0 93.5l2.9 -1.7M735.9 44.7l2.4 -0.8M692.9 70.8l1.5 -1.4M651.1 96.2l3.1 -2.2M735.1 45.0l2.6 -0.7M660.8 90.8l2.7 -2.3M657.9 90.5l1.8 -0.7M638.7 102.9l2.0 -1.8M686.8 72.7l2.5 -1.0M692.4 70.7l1.4 -0.8M627.6 108.8l1.6 -0.8M660.3 88.9l2.7 -2.1M638.1 104.0l2.0 -0.6M729.0 49.8l1.6 -1.6M729.2 48.6l2.4 -1.3M629.6 106.9l1.7 -0.9M680.5 77.2l1.7 -1.1M639.8 99.6l1.8 -0.4M681.2 78.8l1.3 -0.0M679.2 79.6l2.5 -1.1M645.2 99.0l1.6 -1.3M617.9 113.2l2.4 -1.7M730.7 47.7l2.6 -1.9M693.1 71.5l2.8 -2.3M646.9 97.5l3.4 -2.7M695.9 69.5l3.1 -2.0M720.7 54.5l3.3 -2.7M737.7 44.6l2.2 -1.9M647.2 97.8l2.8 -2.1M658.5 89.0l1.7 -1.4M659.2 91.9l3.5 -1.5M677.3 79.6l3.0 -1.0M713.2 59.4l1.7 -0.8M725.8 52.6l1.5 -0.5M659.2 88.7l3.4 -1.7M711.6 58.7l3.1 -1.1M733.5 48.0l3.1 -1.3M691.7 71.1l3.1 -1.3M728.4 49.6l3.4 -1.9M738.1 43.5l3.4 -1.5M648.5 97.5l1.8 -1.5M673.7 80.6l2.4 -0.7M704.7 64.5l2.2 -0.8M718.8 56.3l3.4 -1.4M666.5 84.2l2.7 -1.0M659.2 90.4l3.1 -1.3M614.8 115.4l1.3 -1.4M720.9 54.3l2.6 -1.6M657.5 89.8l2.1 -0.6M695.2 68.6l1.5 -1.2M706.3 62.7l2.7 -1.1M630.8 107.1l1.4 -0.3M637.7 101.4l3.4 -2.1M645.0 99.7l2.6 -0.9M666.1 86.0l3.4 -1.9M743.8 40.5l3.1 -2.3M682.3 74.9l1.7 -0.2M674.8 82.2l1.8 -1.3M627.7 108.3l3.2 -1.8M665.0 88.3l3.2 -1.6M624.7 110.3l2.3 -0.6M662.3 88.8l2.7 -1.7M770.6 55.4l3.3 1.8M762.9 51.5l1.4 1.3M778.5 59.7l2.3 1.7M787.8 65.7l2.9 0.9M761.8 49.1l3.4 2.5M752.9 44.8l2.6 0.7M764.5 51.9l2.7 1.2M783.0 61.6l2.5 1.3M792.1 68.0l3.1 2.0M763.7 51.9l2.9 1.9M759.4 47.8l2.6 2.0M784.3 62.6l1.6 0.9M789.0 64.7l2.9 1.1M761.2 48.6l2.0 0.9M790.4 68.0l1.7 0.7M792.1 66.7l2.0 1.0M751.1 43.2l2.2 1.0M792.8 67.3l1.8 1.6M767.0 53.7l2.7 2.0M761.2 48.9l3.0 1.6M772.4 56.4l2.9 1.3M762.9 51.4l2.5 1.0M776.6 57.9l3.0 1.0M785.2 63.7l2.1 1.9M758.8 47.6l1.5 0.9M781.5 61.8l2.2 1.7M751.2 43.4l2.7 2.3M775.8 58.5l3.0 1.5M790.0 67.0l2.1 1.0M784.9 62.9l1.7 1.6M771.3 55.5l2.8 2.2M752.3 44.1l1.4 0.7M769.4 55.1l2.8 1.7M765.2 52.0l1.9 1.6M782.7 63.0l1.6 1.2M782.0 61.6l3.3 2.5M780.6 61.7l2.7 2.1M752.3 44.7l2.8 1.8M759.3 47.6l2.6 2.0M759.2 47.8l1.8 0.4M777.1 60.0l3.1 1.5M780.4 59.6l3.1 1.5M746.3 41.0l1.6 0.5M748.8 42.2l2.5 1.9M748.1 42.4l1.5 0.4M776.4 58.0l2.0 1.3M756.3 47.2l1.8 1.5M784.5 63.2l1.4 1.2M747.3 41.4l2.2 0.6M775.6 58.5l2.6 1.3M770.3 55.0l1.8 1.6M792.4 68.6l3.4 1.6M794.7 67.7l2.3 0.7M767.4 53.5l2.8 1.5M762.5 49.7l2.2 0.9M755.2 46.5l2.4 1.3M755.4 46.5l1.7 0.6M772.4 56.5l3.4 2.3M789.7 67.4l2.9 2.0M748.8 41.8l1.3 1.3M780.1 60.9l1.9 0.8M753.8 45.4l3.5 1.6M747.9 41.3l2.1 1.8M784.5 63.0l1.5 0.2M753.4 45.4l2.3 2.1M788.5 66.3l2.3 1.8M752.0 43.5l2.5 1.4M756.0 46.0l1.4 1.4M778.8 60.9l3.4 1.8M781.3 60.9l3.1 2.3M752.3 43.5l1.8 1.1M764.5 50.4l3.1 2.2M768.7 52.9l3.2 1.9M749.3 42.3l2.7 2.1M768.9 54.3l1.8 0.6M789.6 65.8l1.5 1.0M751.9 43.6l2.3 1.4M775.9 58.6l2.3 0.6M781.7 60.3l2.3 1.2M777.6 59.6l1.8 1.3M779.1 59.9l1.6 1.6M775.4 56.8l1.8 1.8M756.9 46.8l3.0 2.2M775.7 58.6l1.4 0.1M791.5 68.1l1.4 0.1M757.3 48.0l1.8 1.3M789.9 66.7l3.3 1.5M753.3 44.1l3.0 1.0M791.7 67.9l1.7 1.5M753.8 45.2l1.5 1.3M787.1 65.8l1.3 1.3M772.0 56.5l2.4 1.5M773.8 57.6l1.5 0.1M772.4 55.6l2.2 0.4M782.8 60.9l3.1 2.3M768.3 52.9l2.7 1.1M766.9 52.0l3.4 2.0M763.2 49.8l2.9 2.2M787.7 63.9l2.1 0.9M783.3 61.5l2.6 2.2M784.1 61.5l1.5 0.2M778.8 60.0l2.4 1.3M765.3 52.1l2.7 2.2M780.2 61.4l3.3 2.4M781.4 60.1l2.8 2.1M766.1 53.2l1.7 1.7M766.8 53.2l1.9 0.7M762.8 50.1l1.5 0.8M792.2 68.1l3.3 2.3M784.4 64.4l2.9 1.3M757.9 47.4l1.4 0.3M786.9 65.7l2.0 1.6M781.9 62.6l3.0 1.8M751.1 44.1l2.0 1.3M763.5 50.9l3.4 1.4M771.1 55.6l2.5 2.1M765.0 52.6l2.8 2.3M750.1 42.6l1.9 1.7M746.5 40.6l2.9 2.4M754.4 45.4l2.8 1.9M780.9 61.7l1.8 0.7M747.4 41.8l1.8 0.6M791.5 67.6l2.6 1.7M774.1 57.5l2.0 0.4M748.9 41.6l2.1 0.6M751.4 43.8l3.4 2.2M758.9 48.7l1.7 0.3M760.5 48.9l2.8 1.5M781.8 60.5l3.3 1.6M787.2 63.3l3.1 1.3M785.8 64.7l2.8 1.2M746.2 40.3l3.3 1.3M777.3 59.1l2.7 1.0M752.8 43.9l3.4 1.8M777.0 58.9l1.8 0.3M747.0 41.7l1.6 1.6M763.2 51.1l1.6 1.4M758.0 47.4l2.4 0.8M757.7 48.0l1.9 0.9M783.3 61.6l1.7 0.5" stroke-width="1.4" fill="none"/>
<polyline points="610.2,114 617.5,117.5 621,116.6 626.7,116 661,133.7" fill="none" stroke-width="1.6"/>
<polyline points="661,133.7 744.5,88 747.9,87.5 781.2,69.9 792,69.5 798.9,67.9" fill="none" stroke-width="1.9"/>
<line x1="610.2" y1="114" x2="608.2" y2="332" stroke-width="2"/>
<path d="M617,118 L616.3,336 L620.4,336 L621,117 Z" fill="#111" stroke="none"/>
<line x1="618.8" y1="120" x2="618.4" y2="334" stroke="#fff" stroke-width="0.8" stroke-dasharray="1,4"/>
<line x1="626.8" y1="116.5" x2="625.3" y2="334.5" stroke-width="1.8"/>
<polyline points="608.2,332 616.3,336.2 624.5,334.5 658.3,350" fill="none" stroke-width="2"/>
<line x1="660.8" y1="133.7" x2="658.6" y2="350" stroke-width="2"/>
<line x1="744.2" y1="88" x2="743.5" y2="302.7" stroke-width="1.8"/>
<line x1="747.9" y1="87.5" x2="747.9" y2="304" stroke-width="1.6"/>
<line x1="781.5" y1="70" x2="780.7" y2="286" stroke-width="1.8"/>
<line x1="789" y1="70" x2="789.2" y2="288" stroke-width="3"/>
<line x1="798.5" y1="68" x2="798.7" y2="283.6" stroke-width="2"/>
<line x1="789.1" y1="74" x2="789.1" y2="284" stroke="#fff" stroke-width="0.8" stroke-dasharray="1,2.5"/>
<polyline points="658.3,350 743.5,302.7" fill="none" stroke-width="2.1"/>
<polyline points="747.9,304 780.7,286 789.2,288.5 798.7,283.6" fill="none" stroke-width="2.1"/>
<line x1="743.5" y1="302.7" x2="747.9" y2="304" stroke-width="1.2"/>
<polygon points="640.6,114.7 657.8,105.8 666,110.9 648.9,120.4" fill="none" stroke-width="1.8"/>
<path d="M648,117 Q646,112 651,111 M651,116 L658,109" fill="none" stroke-width="1.4" />
<polygon points="743.1,61.7 756.7,54.3 766.9,58.3 752.7,67.9" fill="none" stroke-width="1.8"/>
<path d="M750,64 Q748,60 753,59 M753,63 L760,57" fill="none" stroke-width="1.4" />
<circle cx="635.6" cy="154" r="2.6" fill="#333" stroke-width="1.5"/>
<line x1="627.5" y1="149.5" x2="644" y2="159.5" stroke-width="1.8"/>
<line x1="635.2" y1="142.5" x2="635.2" y2="166.5" stroke-width="1.7"/>
<circle cx="635.6" cy="204" r="2.6" fill="#333" stroke-width="1.5"/>
<line x1="627.5" y1="199.5" x2="644" y2="209.5" stroke-width="1.8"/>
<line x1="635.2" y1="192.5" x2="635.2" y2="216.5" stroke-width="1.7"/>
<circle cx="635.6" cy="253.5" r="2.6" fill="#333" stroke-width="1.5"/>
<line x1="627.5" y1="249.0" x2="644" y2="259.0" stroke-width="1.8"/>
<line x1="635.2" y1="242.0" x2="635.2" y2="266.0" stroke-width="1.7"/>
<circle cx="635.6" cy="303.5" r="2.6" fill="#333" stroke-width="1.5"/>
<line x1="627.5" y1="299.0" x2="644" y2="309.0" stroke-width="1.8"/>
<line x1="635.2" y1="292.0" x2="635.2" y2="316.0" stroke-width="1.7"/>
<line x1="573.4" y1="94.3" x2="669.8" y2="40.8" stroke-width="1.6"/>
<line x1="676.3" y1="37.4" x2="709.8" y2="17.5" stroke-width="1.6"/>
<line x1="569" y1="91.4" x2="598" y2="107.4" stroke-width="1.6"/>
<line x1="705.5" y1="13" x2="735.6" y2="31.1" stroke-width="1.6"/>
<text transform="translate(637.5,51) rotate(-30) scale(0.8,1)" x="-15.62" y="4.0" font-size="11.11" textLength="31.25" lengthAdjust="spacing" stroke-width="0.6">1670</text>
<line x1="564.8" y1="135.7" x2="562.9" y2="365.8" stroke-width="1.7"/>
<line x1="550.9" y1="147.7" x2="586.8" y2="128.1" stroke-width="2"/>
<text transform="translate(560,280.5) rotate(-90)" x="0" y="0" font-size="11.39" textLength="28.00" lengthAdjust="spacingAndGlyphs" stroke-width="1.0">2100</text>
<line x1="557.9" y1="355.3" x2="609.2" y2="386.2" stroke-width="1.7"/>
<line x1="562.9" y1="358.4" x2="590.7" y2="343.6" stroke-width="2.2"/>
<line x1="603.7" y1="383.2" x2="633.9" y2="365.8" stroke-width="1.6"/>
<text transform="translate(588,365) rotate(31) scale(0.8,1)" x="-11.88" y="4.0" font-size="11.11" textLength="23.75" lengthAdjust="spacing" stroke-width="0.7">500</text>
<polyline points="89.4,339.5 257.5,339 257.3,399.8 246.7,399.8 244,392.8 206.7,392.8 206.7,389.5 97.6,389.5 97.6,350.9 89.4,349.5 89.4,339.5" fill="none" stroke-width="2.5"/>
<line x1="97.6" y1="346" x2="249.5" y2="345.7" stroke-width="1.8"/>
<line x1="249.5" y1="345.7" x2="249.5" y2="392.5" stroke-width="1.6"/>
<line x1="249.5" y1="392.5" x2="247.3" y2="397.3" stroke-width="1.3"/>
<path d="M154.3 342.2l0.5 -0.1M234.9 340.7l0.5 1.1M129.5 340.6l-0.2 -1.2M166.9 343.8l-1.3 -1.2M170.1 341.3l-0.9 -0.2M110.1 340.8l-0.4 -0.1M246.0 343.1l-1.4 -0.9M214.0 343.1l1.2 1.5M232.9 341.0l1.4 0.1M130.3 341.3l1.2 -0.9M104.3 341.7l1.4 -0.1M211.9 340.8l-0.2 -0.6M124.6 343.6l-0.4 -1.2M253.9 342.8l-1.0 -1.6M198.9 342.9l-1.5 -0.1M213.4 343.0l-0.9 -0.0M190.9 343.6l-1.1 1.0M247.5 344.0l1.1 -0.4M240.4 341.4l-0.9 0.3M240.2 340.9l-0.9 -1.5M163.4 341.2l-1.0 0.8M187.3 344.9l-0.3 0.6M92.6 345.0l-0.9 -0.1M175.4 345.0l-0.0 1.6M193.6 341.5l1.1 -1.0M256.4 342.6l-0.9 1.5M143.9 342.4l-0.5 0.5M94.3 342.3l-1.1 1.0M90.5 343.4l-0.8 -0.1M183.8 343.8l-1.2 -0.8M110.5 345.0l-1.1 -1.2M177.2 343.2l1.2 -1.4M129.4 341.3l0.3 -0.2M158.4 344.7l0.5 1.2M249.4 341.8l1.4 -0.3M99.1 344.8l-1.3 -1.5M138.6 341.9l1.5 1.2M160.2 343.0l1.1 1.0M199.0 342.9l-1.2 -0.8M199.7 343.3l1.0 1.3M250.3 341.4l-1.4 1.3M185.2 341.4l0.6 -0.8M129.8 342.2l0.1 0.6M102.7 344.0l0.4 -0.1M202.1 344.3l-1.6 -0.1M203.0 343.8l0.5 -1.0M249.6 344.2l-0.9 -0.2M249.5 341.5l-0.3 1.5M239.9 341.6l0.8 -0.4M200.6 344.1l-1.2 -0.9M126.2 341.8l-1.5 -1.2M157.9 342.5l-1.4 0.3M246.9 343.2l-0.5 0.7M163.1 341.3l-0.1 -1.5M202.7 341.3l-0.4 1.5M217.8 344.4l0.5 0.4M207.5 345.0l-1.0 0.9M140.4 341.7l1.0 0.3M231.5 344.6l0.3 -1.0M93.0 343.0l0.7 -0.7M102.1 340.5l-1.0 0.6M91.2 341.6l-0.8 0.7M254.4 340.6l-1.2 1.4M251.5 341.2l-0.5 0.1M143.6 342.5l-0.1 -0.8M99.6 340.9l-1.1 -1.3M194.1 343.8l-0.8 0.9M211.5 342.1l-0.0 -1.0M244.7 343.1l-1.4 -1.1M205.5 342.3l0.7 -0.9M222.8 344.3l-1.3 0.3M122.3 343.8l1.0 0.9M128.9 340.9l0.5 0.2M113.4 341.4l0.3 -1.3M195.7 341.6l-0.8 -0.2M179.0 343.9l-1.5 0.7M127.2 341.9l0.4 0.6M192.5 344.7l-0.9 -0.6M200.5 341.7l-1.1 -0.9M218.5 344.4l0.7 1.5M222.4 342.0l-0.6 0.7M99.7 343.4l-1.3 -1.4M175.8 341.2l1.4 1.2M167.2 341.4l-1.2 0.0M177.0 342.2l0.7 0.1M219.2 341.0l-1.4 -0.4M170.8 341.7l0.5 -0.9M143.3 342.7l0.7 0.9M152.2 342.6l1.4 1.4M193.2 341.0l-0.1 0.4M136.7 340.7l1.5 1.3M111.9 342.7l0.4 -0.6M101.9 344.0l0.9 -0.2M104.7 342.4l-1.3 1.5M99.0 341.9l0.9 -1.2M108.2 340.8l-1.1 0.1M228.8 341.3l-1.0 0.8M161.2 342.1l-1.2 -0.8M251.8 341.0l-0.8 0.8M238.5 344.7l-0.1 1.5M190.8 341.9l-0.1 0.7M212.3 341.1l-1.0 1.5M108.3 344.3l-0.5 -0.8M132.9 342.7l1.6 -1.1M232.4 342.0l-1.0 0.8M147.2 341.4l-0.3 1.0M233.8 343.2l-1.6 0.8M191.2 344.7l1.4 -0.6M231.3 344.3l-0.7 -0.4M152.7 342.2l-0.4 -1.2M128.2 344.8l-0.3 0.4M237.8 344.1l-0.8 1.3M224.0 345.2l0.7 0.8M225.5 341.7l0.5 -0.4M229.9 341.1l0.1 -0.5M226.7 342.1l1.1 1.1M236.4 341.2l1.4 0.8M202.9 343.6l-1.4 1.2M181.4 342.6l-0.5 0.9M220.4 344.6l-0.9 -0.5M131.9 341.0l-0.6 -1.5M222.7 341.6l-1.4 -1.4M213.5 341.4l-0.1 -0.3M223.7 345.0l-0.6 0.4M239.0 342.7l1.3 0.7M142.2 344.6l0.2 -1.3M188.0 344.4l0.1 -0.1M159.6 344.6l0.5 -0.9M150.7 342.2l1.5 0.6M111.2 344.8l-1.5 0.3M162.3 343.9l-0.2 -1.3M177.4 344.4l0.9 -0.5M127.4 344.0l1.0 -0.9M237.1 345.2l-0.2 -0.4M208.3 344.9l-1.0 -0.6M145.1 343.9l-1.0 0.1M173.6 343.6l-1.1 1.5M256.5 343.1l0.9 -1.0M241.6 343.1l0.8 1.2M150.5 344.8l-0.9 -1.5M173.9 344.7l1.3 1.5M175.3 344.9l0.2 -1.1M195.3 344.3l-0.2 0.3M133.5 341.8l-0.3 0.0M168.2 340.9l-1.6 -0.5M209.5 344.0l-0.8 -0.8M176.3 341.3l0.3 1.3M124.0 343.3l0.7 0.8M208.7 343.8l-0.7 1.1M244.1 340.7l1.4 -0.2M104.8 340.8l0.9 0.6M114.1 342.7l0.4 1.6M146.3 344.1l-0.8 -1.0M117.3 342.4l0.4 -0.6M117.4 341.5l-1.3 -1.0M142.9 342.9l-1.0 -0.1M163.5 345.1l-0.0 1.4M168.8 341.4l0.3 -1.1M118.6 340.8l0.6 1.5M157.5 342.2l-0.2 -0.5M205.2 342.3l-1.1 1.2M185.5 340.5l1.1 0.7M149.3 343.5l1.3 -0.3M162.3 341.9l0.2 0.5M212.5 345.0l-1.1 -0.4M231.9 344.2l0.3 0.6M146.9 344.9l0.2 -0.3M120.8 341.0l1.3 1.0M94.9 342.0l-0.1 -0.0M150.8 344.7l-0.5 0.1M244.8 343.5l-0.1 -0.5M154.8 343.4l0.9 -0.8M152.0 342.3l-0.4 1.3M180.0 341.8l-0.5 1.0M117.1 343.7l-1.5 -1.0M100.4 344.3l-1.1 -0.9M100.1 341.7l0.7 0.7M241.6 345.0l0.2 1.4M105.4 344.8l-0.2 -1.0M214.7 344.5l-0.4 -1.3M235.4 344.0l0.3 1.5M96.8 340.8l-1.2 -1.5M208.1 343.5l-1.2 -1.1M120.5 343.4l0.6 1.5M150.4 345.1l-0.2 -0.3M132.5 341.6l1.5 1.6M207.7 341.3l-1.0 -1.1M148.8 344.0l-1.4 0.1M203.5 340.7l-0.2 0.9M186.1 342.6l1.2 0.3M146.4 342.4l1.4 1.2M242.4 343.1l-1.1 -1.0M154.1 343.7l-1.6 1.0M221.0 342.9l-1.6 1.0M159.2 343.6l0.2 0.7M158.4 345.0l1.5 1.4M192.6 342.0l-0.4 -0.7M240.5 344.2l0.9 1.0M255.0 343.7l-0.6 0.8M134.0 343.4l-1.1 1.1M171.6 341.8l1.4 -1.3M244.9 344.1l-1.1 0.8M185.7 344.8l0.3 -0.2M245.4 340.9l0.9 -1.3M136.4 341.0l1.2 -0.2M211.1 341.7l0.7 0.5M106.7 342.8l0.7 -0.9M199.1 341.8l-0.4 1.3M247.1 345.2l-0.2 0.2M224.7 344.1l-0.1 1.2M157.1 345.0l-0.1 -1.2M214.9 341.2l0.6 -1.4M254.6 343.0l0.8 -1.2M196.2 342.3l-0.8 1.0M96.0 342.7l-1.3 1.1M238.8 340.7l-0.1 -0.1M209.8 343.9l-0.5 1.4M121.3 341.1l1.0 -1.2M121.4 342.9l-0.5 -1.1M244.9 342.7l0.9 -0.8M242.0 341.5l1.3 0.4M251.7 344.1l0.4 0.1M232.4 342.6l-1.3 1.3M224.2 343.7l0.8 -0.9M167.4 344.4l1.5 1.4M117.1 343.7l0.2 -0.3M118.3 341.1l-0.1 -0.0M135.0 342.2l0.2 0.8M188.3 341.3l1.2 -0.4M249.8 345.1l-1.2 0.3M251.0 342.3l0.2 -0.6M95.3 341.5l-1.2 -0.7M195.0 343.1l1.4 0.6M150.6 345.0l0.4 0.1M233.7 343.6l-0.4 0.3M140.3 345.1l-0.8 1.5M101.2 340.5l0.2 -0.9M174.7 341.1l1.1 0.5M204.1 344.9l1.6 0.6M208.9 340.5l-1.4 -0.2M251.4 342.0l0.2 -1.6M159.5 344.7l0.3 1.0M92.7 341.5l-1.0 1.1M107.4 344.9l-0.7 1.2M176.1 342.0l1.5 -0.3M206.3 340.8l1.1 1.5M108.8 344.0l-0.7 -1.1M151.0 343.6l1.5 1.6M255.4 343.4l0.5 -1.1M211.0 343.1l-0.5 1.3M132.8 341.2l-1.1 -1.1M188.2 344.3l-1.1 0.0M185.9 343.1l-0.3 0.1M93.0 340.8l-0.2 -0.8M216.1 341.6l1.0 -0.8M105.9 342.7l-0.4 -0.5M217.5 341.5l0.5 1.1M165.6 342.9l1.4 0.3M120.5 340.8l-1.3 -0.5M105.2 343.5l-0.2 -0.6M175.5 344.9l-0.8 -1.1M141.2 342.0l1.3 0.7M161.7 341.3l-1.5 -1.2M231.2 343.5l-1.1 0.4M100.2 342.9l-0.5 -1.3M213.8 343.9l0.0 -1.1M201.7 342.5l0.5 -1.3M240.3 340.5l-0.9 -0.3M123.4 340.9l0.6 1.6M146.1 341.8l0.5 -0.9M157.0 343.7l-0.2 -1.1M102.2 343.1l1.6 1.3M107.1 342.9l-0.0 -1.0M201.7 342.8l1.0 -0.7M245.5 344.3l-0.1 -1.1M170.8 341.1l0.6 0.6M186.5 345.1l-1.5 0.7M223.4 341.0l-0.6 -1.4M187.3 343.9l-0.5 0.6M151.4 343.8l-0.7 1.5M163.2 340.5l-1.3 0.7M234.0 343.5l-1.1 1.2M209.5 341.0l-0.4 0.5M91.1 340.7l-0.5 1.2M255.9 342.0l1.3 0.9M234.1 343.3l1.5 0.5M247.8 343.2l-1.0 0.1M170.7 342.1l-0.4 0.0M188.1 341.5l-0.7 0.0M174.1 342.5l0.5 -1.0M178.8 341.8l0.9 0.7M220.2 342.9l-0.8 1.4M175.3 342.3l-0.7 -0.3M208.1 344.3l-0.1 0.7M125.8 342.6l-0.5 -0.6M150.2 344.0l0.7 -0.9M129.3 344.2l0.5 0.6M195.9 343.8l-0.7 -1.4M150.4 340.7l1.5 0.1M201.8 345.0l1.0 -0.9M146.4 341.0l0.9 0.8M171.5 342.2l-0.7 -0.0M208.7 344.7l1.1 1.2M163.4 342.5l-0.6 1.5M120.9 341.2l-0.7 1.4M232.1 342.1l1.1 1.3M161.4 341.4l0.9 -0.4M110.3 344.7l-0.2 -0.3M189.3 341.7l-1.5 -0.4M153.5 340.6l-0.4 0.8M145.8 343.7l0.4 -1.0M93.9 343.7l0.4 -0.7M123.7 344.5l1.3 -0.9M187.8 343.2l-0.6 -1.5M144.5 343.5l0.3 0.0M110.8 341.5l-0.6 -0.3M150.8 344.7l-1.2 1.6M130.4 344.5l-0.8 0.3M153.1 340.7l0.9 1.0M135.2 344.1l-0.1 1.6M99.5 342.3l-0.9 0.4M219.6 344.5l0.2 -0.4M223.2 341.0l-0.8 0.8M163.6 345.2l-1.3 -0.1M125.8 340.5l-1.3 -1.3M151.7 342.5l0.0 -0.7M207.0 342.9l1.5 -1.1M175.3 342.8l-0.4 1.2M125.3 344.6l-0.5 -0.5M192.6 343.1l-0.7 -1.3M249.1 342.2l-1.2 0.5M178.8 342.0l-0.5 1.1M146.7 342.5l1.5 -0.4M157.2 341.3l0.5 0.5M164.6 342.4l-0.9 0.9M166.4 344.4l-0.4 0.7M95.3 341.5l1.5 0.6M202.7 342.8l-0.1 -1.0M119.2 343.5l0.6 -0.8M197.5 341.1l0.4 -1.1M175.1 342.0l0.2 -1.2M170.7 343.4l-1.2 -0.6M203.2 343.1l0.4 0.9M185.4 341.5l-0.2 1.1M184.6 344.0l-0.4 -0.2M251.5 344.4l0.5 -1.3M192.1 340.7l1.4 1.5M211.4 341.8l1.1 -1.0M227.9 342.9l-1.5 1.2M163.5 344.4l0.6 0.1M233.7 341.5l1.3 -0.5M94.8 342.1l-1.4 -1.4M194.1 341.1l-1.1 -0.7M136.8 344.8l1.3 1.2M254.8 342.6l0.9 -0.7M244.3 344.3l0.7 -0.9M105.7 344.8l0.2 0.4M233.6 341.2l0.6 -0.1M221.0 342.6l-1.0 1.5M137.2 344.0l1.1 -0.8M205.9 342.4l-0.9 -0.9M248.9 342.2l0.0 0.0M94.9 344.0l0.8 1.2M149.8 341.5l-0.5 0.7M199.7 342.4l0.1 -1.1M243.0 342.7l0.0 0.9M123.3 343.9l-0.5 1.0M106.2 341.8l0.4 -0.1M153.1 343.2l-0.9 -0.2M90.8 344.3l-0.8 1.1M182.2 343.3l0.4 -1.2M219.5 341.9l1.2 0.9M203.1 344.3l-0.2 0.6M248.7 341.4l-1.3 -0.3M175.1 341.2l-0.9 1.2M154.9 341.2l-1.0 0.2M122.0 342.7l0.1 -0.2M174.1 344.4l-1.5 1.4M123.6 340.7l0.9 0.2M179.8 341.5l0.9 -0.6M211.2 341.6l0.2 0.5M152.2 342.8l-1.4 0.5M205.3 341.2l0.2 0.7M107.3 344.4l1.2 -1.4M131.7 340.9l-0.8 -1.3M171.7 341.7l-0.6 -0.1M152.2 344.2l0.7 -1.2M127.6 340.5l-0.5 -1.3M206.2 344.2l1.6 -0.9M96.6 344.1l-0.3 1.4M155.6 342.0l-1.4 1.4M175.5 342.6l-0.2 0.9M228.4 342.7l-1.0 -0.3M238.5 342.4l0.5 0.2M167.1 343.2l-0.8 0.2M234.0 340.9l-0.4 1.2M252.9 340.6l0.4 0.4M230.5 342.7l-1.2 -0.6M208.8 343.9l-0.9 0.5M199.5 343.6l-1.5 -0.2M144.4 343.3l-0.5 -1.2M201.8 341.8l0.9 -0.6M181.1 344.3l-1.2 0.7M101.8 344.9l-1.5 0.7M151.7 341.3l-0.3 0.0M159.4 341.1l0.1 -0.6M251.1 342.3l-0.2 -0.9M251.3 342.0l0.5 1.1M155.8 344.0l-0.7 -1.2M97.5 342.6l1.2 -1.0M163.6 344.1l-0.7 -1.1M176.7 342.5l1.4 1.3M130.0 343.1l-0.3 -1.5M164.3 344.8l-0.6 0.3M208.4 340.8l1.4 -1.3M140.6 343.9l-1.5 -0.4M111.5 342.7l-1.5 -1.1M127.4 340.9l-1.3 -1.0M176.4 341.1l1.0 -0.3M132.3 341.6l1.1 -1.4M213.7 341.0l1.4 -0.3M189.7 344.6l-1.3 -1.4M205.6 343.3l0.7 -0.7M173.0 341.4l-0.2 -0.7M187.7 341.9l-0.7 0.5M104.7 344.3l-0.0 -0.9M109.6 342.9l0.0 0.7M152.6 342.4l1.3 -0.7M253.4 344.7l1.6 1.4M133.2 344.3l0.4 -0.9M256.1 343.5l1.0 0.2M103.7 344.6l-1.0 -0.8M192.8 341.4l-0.1 0.7M106.4 343.6l-1.3 -0.1M198.3 343.7l-1.5 -1.0M249.9 342.3l-0.2 -0.4M206.1 344.0l0.5 -0.3M185.0 342.9l-1.0 1.4M250.7 344.2l1.6 -0.1M229.8 341.6l0.8 0.7M246.3 344.4l1.2 -0.7M221.2 342.7l-0.6 -0.4M223.1 344.5l1.1 0.5M118.8 341.2l0.2 -0.9M146.4 341.0l-1.1 0.7M127.6 344.5l-0.5 1.1M140.7 341.8l-0.3 -1.6M162.8 342.3l-1.6 1.2M152.8 340.5l1.5 -0.9M132.5 340.6l-1.3 0.7M187.1 342.9l-0.8 -0.7M251.5 342.2l1.6 1.2M111.2 344.5l-1.5 0.7M224.9 343.8l0.2 1.0M116.1 343.0l-0.7 -0.3M122.3 343.8l0.2 0.9M194.8 343.3l1.4 1.0M184.6 342.0l1.4 -0.4M107.5 342.1l0.7 1.4M197.7 343.6l1.4 0.9M164.4 342.7l0.8 -0.6M108.7 343.4l1.0 -0.8M204.0 344.7l-1.2 -1.2M172.3 342.1l1.4 1.6M164.5 344.2l0.4 -1.0M251.8 341.3l-1.4 -0.2M93.5 342.8l-0.3 1.5M159.2 344.5l0.9 0.3M130.0 341.9l-0.0 -0.3M197.7 342.9l-0.6 0.3M255.9 341.5l-0.5 -1.6M106.1 340.8l-0.2 1.1M206.3 345.0l1.1 0.3M186.8 340.6l-0.4 -0.8M193.5 340.8l0.1 -0.4M172.2 342.4l-1.3 0.7M223.4 343.3l-1.2 0.3M235.1 345.1l0.8 -1.5M236.3 343.6l-0.7 1.3M227.6 344.7l-0.8 0.2M153.4 341.9l0.8 0.4M145.6 343.1l1.4 0.2M242.1 343.2l1.6 -1.5M166.9 343.1l0.7 1.5M194.0 342.7l0.4 0.1M207.5 345.0l-1.6 -0.6M236.0 340.8l0.9 -1.5M198.1 344.3l-0.8 -0.4M128.1 343.8l0.1 0.3M144.5 343.3l1.5 0.9M248.5 341.7l0.1 -0.4M147.9 344.3l-1.0 0.2M219.0 344.9l-1.5 -0.7M172.3 344.9l-1.1 1.1M156.4 343.1l1.4 -1.4M145.2 341.2l-1.2 -0.6M206.8 343.2l-1.2 1.0M174.7 341.2l1.0 1.0M126.5 344.9l1.0 -0.9M90.7 344.6l1.0 -1.3M217.7 344.1l0.4 1.1M254.0 342.0l1.1 1.3M142.5 343.7l0.6 1.1M184.6 341.8l-0.8 0.1M113.0 344.5l1.2 -0.8M206.2 343.7l-1.2 0.9M217.7 341.9l-1.3 -0.7M218.6 342.7l1.0 -1.1M108.2 342.1l1.2 -1.1M102.7 344.0l-1.3 0.5M104.4 341.7l0.5 1.2M158.4 342.6l-1.5 -0.5M130.7 344.2l0.7 0.9M178.8 343.8l-1.2 -0.4M139.1 341.8l0.8 -0.9M144.5 341.8l1.2 0.4M170.3 342.3l1.3 1.4M165.1 343.2l1.2 -0.8M133.4 341.0l0.0 0.9M116.5 342.5l1.6 -0.1M154.0 344.4l1.3 -0.4M111.0 343.5l0.8 1.4M200.1 341.9l0.0 -0.7M164.5 342.7l1.3 1.3M244.3 342.7l1.5 -1.2M243.4 343.5l1.2 -0.3M255.0 340.6l1.1 1.0M152.6 344.4l-0.9 0.8M168.3 342.4l-1.0 1.0M211.8 340.9l1.5 -0.9M152.8 342.4l0.2 1.2M247.4 343.5l-0.4 -1.3M101.9 342.9l0.3 -0.2M253.6 342.4l-0.5 -0.3M119.0 344.9l0.3 0.1M161.2 341.7l-0.6 -0.0M164.6 345.1l0.2 -0.9M99.4 341.2l-0.5 0.9M238.1 341.6l0.9 -0.2M179.7 343.0l-1.5 -1.4M201.3 343.7l-0.4 1.3M226.6 341.9l-1.4 0.2M199.1 341.6l-1.5 -0.0M96.2 344.0l0.4 -0.7M164.5 341.6l-1.0 -1.0M225.9 342.6l0.7 -0.5" stroke-width="0.9" fill="none"/>
<path d="M255.3 377.0l0.5 -0.3M253.9 355.9l1.5 0.6M253.7 379.2l-1.3 -0.5M251.9 389.8l-1.6 -0.2M255.7 386.7l0.7 -0.6M251.9 382.6l-0.6 0.7M252.6 385.6l0.2 1.0M256.4 365.7l1.6 -1.6M255.8 347.5l0.1 -0.4M255.1 362.4l-0.9 0.9M253.8 385.3l-0.0 -1.5M255.1 357.3l-0.1 -1.6M252.1 380.6l0.8 0.4M253.2 384.1l0.5 -0.9M253.7 377.1l0.7 -1.0M252.4 363.8l-1.3 -0.5M254.9 376.0l-1.0 0.7M251.2 385.1l-1.1 -1.3M252.0 372.8l-0.7 1.2M256.1 360.7l0.8 0.6M253.9 359.3l1.4 1.5M250.6 363.2l-0.6 -1.0M253.1 392.7l-1.5 1.1M252.4 346.7l1.3 -0.7M251.8 352.1l-0.4 -1.2M251.6 359.0l0.3 -0.2M252.3 373.3l0.9 0.7M252.6 393.7l0.9 0.2M253.4 363.1l-1.2 1.2M254.1 351.1l1.4 1.2M250.7 382.4l-0.8 0.1M255.5 364.2l-0.0 0.5M251.7 378.6l-0.2 1.5M251.6 383.0l-1.5 -0.7M251.2 353.7l0.1 -1.0M255.3 351.0l0.4 1.2M251.3 357.3l0.8 -0.1M256.1 363.6l-0.3 1.5M252.6 396.2l1.3 -1.0M253.8 394.9l-1.2 1.1M255.1 385.0l0.3 -1.3M256.3 351.3l0.9 0.7M252.4 381.6l-0.3 0.8M250.8 394.5l-0.4 1.0M253.3 388.2l-0.6 0.1M250.7 371.4l-1.3 1.1M254.6 368.1l1.5 1.4M256.2 350.3l0.7 0.7M254.1 346.8l1.4 -0.2M254.1 388.4l-0.7 -1.5M256.0 360.1l-1.5 -1.2M256.5 384.5l-0.9 -1.1M255.9 380.6l0.3 -1.2M253.0 395.2l-1.6 -0.3M250.8 397.9l-1.3 1.5M255.5 384.0l-1.5 0.6M253.5 371.5l-1.1 0.0M255.3 352.8l1.2 -0.3M252.1 358.4l-0.1 0.5M253.9 392.3l0.0 0.0M256.4 357.2l-1.5 -0.5M252.4 352.4l-0.3 -1.5M256.0 371.2l1.2 0.6M254.9 385.4l-0.6 0.7M251.7 374.9l0.3 0.9M251.5 363.9l1.0 1.0M256.4 352.2l-0.9 -1.3M254.8 384.8l0.5 0.9M253.6 375.2l1.3 0.5M254.4 376.6l-0.0 0.8M253.9 352.7l-0.2 -0.3M253.1 375.2l-0.4 -0.3M253.1 365.3l1.5 -1.3M250.6 383.5l-0.3 -0.2M254.1 365.1l-0.8 -1.6M255.7 394.8l-0.7 -0.1M252.4 349.0l1.3 1.1M251.9 359.3l0.6 0.9M253.3 366.1l-0.9 1.0M255.7 390.6l-1.2 0.3M256.4 383.2l-0.1 -1.1M250.9 384.1l-1.4 1.0M254.5 370.6l1.3 1.4M254.2 351.2l0.3 -0.3M252.0 394.3l0.7 -1.2M251.9 363.8l0.2 -0.6M253.1 388.3l-1.0 0.7M252.5 395.1l1.4 -0.6M254.1 351.8l-0.3 0.4M254.3 363.8l-1.5 -1.2M253.9 354.9l-0.6 0.4M255.9 372.8l-0.8 0.3M252.2 386.7l-1.1 -0.8M253.1 393.2l-1.1 -1.0M251.3 357.1l-0.5 -0.3M255.1 367.0l-0.1 -0.3M255.1 393.0l-0.2 1.3M252.0 396.8l0.1 0.6M252.8 360.1l-1.2 1.2M252.7 382.3l-0.1 0.1M251.7 355.2l-0.5 0.6M253.8 346.1l0.7 -0.2M250.9 359.5l-0.9 1.0M253.8 363.0l-0.8 -0.7M252.2 364.0l0.9 0.9M254.7 392.0l0.5 -1.2M250.8 354.5l-0.8 0.1M255.4 376.5l-0.2 -0.8M256.4 385.2l-0.5 -1.5M256.4 359.3l1.1 -1.2M254.4 364.5l1.2 -0.6M251.1 356.3l1.0 1.5M254.4 381.5l-0.7 -0.7M251.0 397.2l-1.5 0.4M252.6 355.7l-0.2 1.4M252.0 354.6l0.4 0.5M253.6 355.3l1.2 -1.2M251.5 358.6l0.0 -0.1M253.8 383.8l1.3 -0.1M250.8 389.2l-1.5 -0.6M251.4 377.3l0.9 -1.2M252.3 390.3l0.6 -1.3M254.6 387.3l-0.3 -1.1M254.5 362.6l-1.2 -1.1M252.9 352.6l-0.4 0.2M253.8 367.0l1.0 -1.3M252.5 394.5l1.2 1.3M255.1 373.9l0.9 0.2M251.2 359.3l-1.3 1.2M252.4 367.2l0.1 -1.3M254.7 387.4l0.9 1.2M252.4 353.6l0.8 0.6M252.7 363.9l-1.1 1.1M253.3 388.2l-0.5 -0.6M253.6 384.8l1.2 -0.5M254.7 367.0l1.2 0.8M253.8 364.9l-0.7 1.2M255.3 361.9l-1.3 -1.0M256.3 348.0l1.0 0.1M253.8 374.1l-0.3 0.2M251.0 393.8l-1.3 -1.2M254.5 379.3l1.0 0.6M256.1 348.7l-1.6 -0.8M255.2 353.9l0.1 0.9M251.4 373.4l1.3 0.8M252.9 370.9l-0.7 1.5M255.2 381.4l-0.6 0.7M253.4 387.5l-0.4 1.2M254.6 369.4l0.2 1.0M253.7 395.9l-1.6 1.3M254.8 371.4l1.1 -1.1M252.5 383.1l1.0 -0.4M256.5 379.7l-1.5 -1.2M251.0 375.6l-0.6 -0.8M253.2 350.1l1.3 1.1M253.9 369.1l-0.6 0.3M252.6 396.7l1.5 0.7M255.5 349.9l-1.2 -0.5M251.3 368.0l1.6 1.1M256.3 357.5l-0.9 -1.5M252.1 348.9l0.1 -0.6M254.5 375.2l0.3 -0.6M254.9 381.8l0.7 -0.1M253.3 360.9l-1.5 -0.1M254.2 355.7l1.2 1.2M255.6 388.4l-0.0 -1.0M252.1 384.4l1.6 -1.2M250.5 364.4l-0.5 0.3M251.2 389.9l-0.5 1.3M252.5 361.9l-1.0 1.5M254.0 388.9l-1.4 0.1" stroke-width="0.9" fill="none"/>
<line x1="36.6" y1="336.6" x2="36.6" y2="396.4" stroke-width="1.8"/>
<line x1="53.3" y1="334.5" x2="53.3" y2="396" stroke-width="1.8"/>
<line x1="71.7" y1="334.5" x2="71.7" y2="350.6" stroke-width="1.8"/>
<line x1="30.9" y1="339.7" x2="88" y2="339.7" stroke-width="2"/>
<line x1="27.5" y1="390" x2="81.2" y2="390" stroke-width="2"/>
<line x1="49" y1="364.7" x2="61" y2="364.7" stroke-width="1.8"/>
<line x1="66" y1="350.2" x2="82" y2="350.2" stroke-width="1.2"/>
<line x1="66" y1="352.3" x2="82" y2="352.3" stroke-width="1.2"/>
<text transform="translate(33.6,372.6) rotate(-90)" x="0" y="0" font-size="11.39" textLength="14.30" lengthAdjust="spacingAndGlyphs" stroke-width="0.6">500</text>
<text transform="translate(49.3,360.4) rotate(-90) scale(0.8,1)" x="0.00" y="0" font-size="9.58" textLength="18.75" lengthAdjust="spacing" stroke-width="0.6">244</text>
<text transform="translate(49.3,386.2) rotate(-90) scale(0.8,1)" x="0.00" y="0" font-size="9.58" textLength="18.62" lengthAdjust="spacing" stroke-width="0.6">260</text>
<text transform="translate(67.6,361) rotate(-90)" x="0" y="0" font-size="8.47" textLength="8.10" lengthAdjust="spacingAndGlyphs" stroke-width="0.6">15</text>
<text transform="translate(67,349.5) rotate(-90)" x="0" y="0" font-size="6.94" textLength="9.50" lengthAdjust="spacingAndGlyphs" stroke-width="0.1">105</text>
<text transform="translate(79.2,357.7)" x="0" y="0" font-size="9.44" textLength="8.10" lengthAdjust="spacingAndGlyphs" stroke-width="0.6">30</text>
<text transform="translate(90,372)" x="0" y="0" font-size="10.42" textLength="6.90" lengthAdjust="spacingAndGlyphs" stroke-width="0.6">35</text>
<line x1="91" y1="352" x2="91" y2="362" stroke-width="0.9"/>
<line x1="93.2" y1="352" x2="93.2" y2="362" stroke-width="0.9"/>
<line x1="95.4" y1="352" x2="95.4" y2="362" stroke-width="0.9"/>
<rect x="105.2" y="358.5" width="19" height="10" fill="none" stroke-width="2"/>
<line x1="101" y1="363.5" x2="128" y2="363.5" stroke-width="1.2"/>
<line x1="110" y1="360" x2="110" y2="367" stroke-width="1"/>
<line x1="119" y1="360" x2="119" y2="367" stroke-width="1"/>
<text transform="translate(93,323.3)" x="0" y="0" font-size="10.42" textLength="71.00" lengthAdjust="spacingAndGlyphs" stroke-width="0.7">ФАКТУРНЫЙ СЛОЙ</text>
<line x1="88" y1="324.2" x2="169.9" y2="324.2" stroke-width="1.8"/>
<line x1="169.9" y1="324.2" x2="174" y2="339" stroke-width="1.8"/>
<text transform="translate(208.2,322.3)" x="0" y="0" font-size="11.11" textLength="12.40" lengthAdjust="spacingAndGlyphs" stroke-width="0.6">П-3</text>
<line x1="200.8" y1="324.2" x2="230.5" y2="324.2" stroke-width="1.8"/>
<line x1="230.5" y1="324.2" x2="237.3" y2="365" stroke-width="1.5"/>
<text transform="translate(196.5,334.7)" x="0" y="0" font-size="10.28" textLength="32.10" lengthAdjust="spacingAndGlyphs" stroke-width="0.7">ДЕТАЛЬ 1</text>
<text transform="translate(182.9,334.7)" x="0" y="0" font-size="11.25" textLength="8.60" lengthAdjust="spacingAndGlyphs" stroke-width="0.5">36</text>
<line x1="194" y1="330" x2="194" y2="350" stroke-width="1.1"/>
<text transform="translate(189.5,355) rotate(-90)" x="0" y="0" font-size="7.64" textLength="9.00" lengthAdjust="spacingAndGlyphs" stroke-width="0.6">40</text>
<rect x="231" y="366" width="16" height="9" fill="#fff" stroke-width="2.6"/>
<line x1="234" y1="368" x2="234" y2="374" stroke-width="1.3"/>
<line x1="239" y1="368" x2="239" y2="374" stroke-width="1.3"/>
<line x1="244" y1="368" x2="244" y2="374" stroke-width="1.3"/>
<line x1="233" y1="371" x2="245" y2="371" stroke-width="1.1"/>
<line x1="250" y1="370.6" x2="265" y2="370.6" stroke-width="1" stroke-dasharray="3,2"/>
<line x1="278.6" y1="333.5" x2="278.6" y2="406.8" stroke-width="1.8"/>
<line x1="297.9" y1="333.5" x2="297.9" y2="405.3" stroke-width="1.8"/>
<line x1="261.6" y1="339.2" x2="303.3" y2="339.2" stroke-width="2.2"/>
<line x1="263.9" y1="400.7" x2="301.7" y2="400.7" stroke-width="2.2"/>
<line x1="272" y1="370.2" x2="283" y2="370.2" stroke-width="1.8"/>
<text transform="translate(274.7,359.7) rotate(-90) scale(0.8,1)" x="0.00" y="0" font-size="8.61" textLength="19.25" lengthAdjust="spacing" stroke-width="0.6">300</text>
<text transform="translate(274.7,392.2) rotate(-90) scale(0.8,1)" x="0.00" y="0" font-size="8.61" textLength="17.37" lengthAdjust="spacing" stroke-width="0.6">315</text>
<text transform="translate(291.7,378.3) rotate(-90) scale(0.8,1)" x="0.00" y="0" font-size="9.72" textLength="19.38" lengthAdjust="spacing" stroke-width="0.6">615</text>
<line x1="193.9" y1="384.5" x2="193.9" y2="397.3" stroke-width="1.2"/>
<line x1="190" y1="393.4" x2="201" y2="393.4" stroke-width="1.2"/>
<text transform="translate(188.3,399.5) rotate(-90)" x="0" y="0" font-size="7.64" textLength="7.80" lengthAdjust="spacingAndGlyphs" stroke-width="0.6">44</text>
<text transform="translate(213.4,401.7) rotate(-90)" x="0" y="0" font-size="7.78" textLength="6.10" lengthAdjust="spacingAndGlyphs" stroke-width="0.6">15</text>
<line x1="219.5" y1="385" x2="219.5" y2="407" stroke-width="1.2"/>
<line x1="214" y1="400.6" x2="226" y2="400.6" stroke-width="1.2"/>
<text transform="translate(232.3,389.5) rotate(-90)" x="0" y="0" font-size="9.31" textLength="8.40" lengthAdjust="spacingAndGlyphs" stroke-width="0.6">35</text>
<line x1="235" y1="389" x2="235" y2="409" stroke-width="1.2"/>
<line x1="230" y1="395.6" x2="244" y2="395.6" stroke-width="1.1"/>
<line x1="230" y1="397.8" x2="244" y2="397.8" stroke-width="1.1"/>
<text transform="translate(231.7,407.8) rotate(-90)" x="0" y="0" font-size="8.47" textLength="6.60" lengthAdjust="spacingAndGlyphs" stroke-width="0.6">30</text>
<text transform="translate(238.4,407.5)" x="0" y="0" font-size="7.22" textLength="5.00" lengthAdjust="spacingAndGlyphs" stroke-width="0.5">15</text>
<text transform="translate(247.9,407.5)" x="0" y="0" font-size="7.22" textLength="8.90" lengthAdjust="spacingAndGlyphs" stroke-width="0.5">100</text>
<line x1="245" y1="400" x2="245" y2="415" stroke-width="1"/>
<line x1="247" y1="400" x2="247" y2="415" stroke-width="1"/>
<line x1="240" y1="409.5" x2="260" y2="409.5" stroke-width="1.1"/>
<line x1="89.3" y1="392.6" x2="89.3" y2="432.5" stroke-width="1.8"/>
<line x1="98.8" y1="412" x2="98.8" y2="442" stroke-width="1.8"/>
<line x1="89" y1="423" x2="263" y2="423" stroke-width="2"/>
<line x1="206.4" y1="412" x2="206.4" y2="428" stroke-width="1.8"/>
<line x1="257.3" y1="400" x2="257.3" y2="440" stroke-width="1.8"/>
<line x1="95" y1="436.7" x2="263" y2="436.7" stroke-width="2"/>
<text transform="translate(90,419.5)" x="0" y="0" font-size="10.42" textLength="7.00" lengthAdjust="spacingAndGlyphs" stroke-width="0.6">15</text>
<text transform="translate(136,420) scale(0.8,1)" x="0.00" y="0" font-size="10.42" textLength="26.25" lengthAdjust="spacing" stroke-width="0.6">1096</text>
<text transform="translate(226.7,420) scale(0.8,1)" x="0.00" y="0" font-size="10.00" textLength="18.75" lengthAdjust="spacing" stroke-width="0.6">500</text>
<text transform="translate(164,435.5) scale(0.8,1)" x="0.00" y="0" font-size="11.81" textLength="30.00" lengthAdjust="spacing" stroke-width="0.6">1595</text>
<text transform="translate(10.5,436.3)" x="0" y="0" font-size="18.47" textLength="75.50" lengthAdjust="spacingAndGlyphs" stroke-width="0.4">НБУ-16.22.5-1</text>
<text transform="translate(117,456.7) scale(0.8,1)" x="0.00" y="0" font-size="13.75" textLength="45.00" lengthAdjust="spacing" stroke-width="0.4">По 1-1</text>
<polyline points="375.2,422.7 542.5,423 543.5,483.6 533,483.6 529.8,477.3 492,477.3 492,471.6 383.9,471.6 383.9,434.7 375.2,433.6 375.2,422.7" fill="none" stroke-width="2.5"/>
<line x1="383.9" y1="430.9" x2="535" y2="430.9" stroke-width="1.8"/>
<line x1="535" y1="430.9" x2="535" y2="477" stroke-width="1.6"/>
<line x1="535" y1="477" x2="532" y2="481" stroke-width="1.2"/>
<path d="M497.5 429.9l1.4 -1.3M438.1 430.0l0.1 1.5M418.3 424.2l1.4 -0.8M469.0 426.2l0.2 1.4M532.7 429.3l-0.8 1.0M379.5 426.5l1.4 -0.8M437.1 427.5l-0.8 0.7M484.2 424.6l1.3 -1.4M491.4 426.1l-1.1 -1.4M541.1 428.8l-0.1 0.9M536.5 429.6l0.1 -0.7M462.1 429.9l0.7 0.5M515.6 426.5l0.2 1.1M409.4 429.2l-1.5 0.1M471.4 424.9l1.4 -0.2M407.0 426.5l0.3 -0.2M377.0 424.6l0.7 -1.2M418.7 428.8l1.2 1.2M405.3 424.0l0.8 0.3M436.6 424.1l-0.2 -0.8M473.5 429.9l-0.9 -1.4M491.1 424.6l-0.9 -0.2M539.2 425.9l-0.6 -0.1M403.3 426.4l0.6 -0.6M507.9 425.1l-1.3 0.4M451.2 429.5l-1.3 0.8M487.0 426.2l-1.2 0.4M501.6 426.8l-0.1 0.6M477.0 426.5l-1.0 -0.1M467.2 429.4l1.6 0.2M430.7 425.3l0.4 0.8M417.4 428.1l1.6 -0.3M531.4 426.6l0.5 1.2M410.1 426.1l1.5 -1.4M427.0 426.9l0.8 0.4M529.9 428.0l-1.6 -1.4M382.5 426.6l-1.5 0.1M480.9 425.2l1.1 -0.3M534.9 426.1l0.4 0.1M419.9 428.7l-1.6 -0.8M429.4 429.3l0.0 -1.5M425.8 427.7l1.0 -1.3M505.1 426.3l0.1 -0.3M448.8 429.9l1.3 1.3M497.9 428.2l-1.1 -1.5M513.6 428.0l0.4 -0.6M420.6 429.5l0.1 -1.5M432.7 426.1l-1.4 1.5M525.5 428.9l-1.6 -0.3M394.9 428.4l1.0 0.9M507.1 424.7l-1.6 -1.3M515.5 429.0l0.1 -0.8M517.9 424.7l-0.6 -1.6M538.7 426.5l0.9 1.0M472.4 429.9l0.9 1.4M535.5 424.5l0.8 -0.9M430.1 426.0l1.6 -1.4M448.3 424.8l1.6 -0.0M492.3 427.1l0.9 -0.5M444.7 428.5l0.6 1.2M427.5 429.1l0.8 0.2M443.8 427.4l-1.4 -1.3M427.9 424.7l-1.4 0.7M497.2 427.7l-0.9 0.7M512.8 427.7l-0.9 0.2M441.6 425.6l-1.1 1.2M480.8 429.6l-1.0 -0.8M460.5 424.4l-0.6 0.1M456.0 429.5l0.2 0.4M473.1 428.7l-0.4 -1.6M538.3 428.8l-1.2 -1.2M413.2 427.9l-1.2 -1.5M458.0 424.0l-0.8 -0.4M410.4 424.0l-0.8 -0.8M430.0 426.5l-0.4 -0.6M379.7 429.0l0.8 -0.0M377.0 425.4l1.3 -0.1M410.4 428.9l1.3 -1.2M459.2 427.4l-1.2 -0.6M478.5 428.0l0.4 0.4M438.9 424.4l-1.5 1.1M519.2 429.4l-1.4 0.9M404.9 426.1l-1.0 1.2M511.6 429.0l-0.4 1.4M419.4 427.4l0.6 -0.9M439.5 424.6l0.9 -1.0M398.9 425.7l0.4 0.4M463.1 429.1l0.8 -0.9M464.7 425.0l-0.8 -1.1M389.2 426.1l1.2 0.5M391.0 425.3l0.3 0.1M380.9 424.6l0.2 0.3M389.8 428.6l-0.8 0.3M463.9 426.0l1.4 -0.3M446.3 427.2l1.1 1.6M503.5 427.2l0.7 0.4M534.8 429.8l0.8 -0.9M470.3 426.6l-0.9 0.9M413.0 428.3l-0.0 -0.2M493.1 428.3l1.6 1.6M508.5 425.6l0.5 -0.0M531.7 426.7l-0.5 -1.5M454.1 427.2l-0.6 -1.3M456.4 424.4l-1.1 -0.2M433.9 427.0l0.1 -0.4M398.5 424.1l0.2 1.5M422.9 426.1l-0.6 0.8M457.9 428.8l-1.6 -1.2M410.5 426.2l-0.3 -0.4M535.8 426.6l0.2 1.5M482.4 427.6l1.1 -0.5M382.4 429.7l0.1 0.3M387.5 428.5l-0.4 0.5M423.3 429.5l-0.4 -0.7M524.0 425.3l-0.7 -0.0M538.3 424.7l-0.9 0.9M388.9 426.5l0.9 0.7M507.4 424.7l1.2 -0.5M510.8 426.8l1.3 -0.1M419.0 424.9l-0.0 -1.4M403.6 429.2l0.2 1.2M401.4 426.9l-0.1 -1.3M420.0 429.5l0.7 0.0M477.1 429.2l1.5 0.3M384.8 429.2l-1.1 -0.8M399.1 427.1l0.3 -0.1M454.1 424.8l0.7 0.1M427.5 429.0l1.4 1.4M539.0 424.4l-0.4 -0.2M418.8 428.5l1.3 -1.2M460.0 429.8l1.2 -0.2M393.8 426.7l0.1 0.9M407.2 425.7l1.6 -1.6M477.3 424.6l0.8 -0.2M529.2 425.3l1.2 -0.9M384.4 424.5l-1.4 -0.4M536.9 426.1l0.7 -1.5M461.6 427.2l-1.3 0.3M450.1 426.0l1.1 0.6M396.4 424.6l-1.4 -0.8M481.5 429.8l1.5 1.2M397.0 428.8l0.8 -0.1M540.8 427.6l-1.2 -0.9M397.9 427.7l0.4 1.1M378.2 424.1l1.5 -0.8M420.1 429.2l-1.2 0.9M524.5 427.4l0.3 -1.6M476.6 427.7l0.9 0.1M395.3 425.3l0.5 -1.3M394.1 425.5l0.9 0.1M435.4 429.8l0.3 -0.8M469.8 429.1l-0.4 -0.2M471.8 429.9l0.4 -1.0M472.5 425.9l-0.1 0.7M379.8 427.0l-0.6 0.3M511.9 426.8l0.4 -0.7M418.7 427.1l0.1 -0.9M502.7 427.0l-0.5 -0.8M514.6 429.4l1.4 -0.8M388.2 427.8l-1.5 1.1M488.5 426.0l-0.2 0.6M402.9 426.2l0.9 0.6M473.1 424.6l-0.9 -0.8M381.7 427.8l0.2 1.4M468.0 429.5l-0.1 0.1M422.9 426.8l1.4 -0.0M376.9 426.1l-1.0 0.4M460.5 426.9l1.4 0.8M390.9 424.2l0.6 0.3M484.2 427.0l-1.5 -0.2M514.4 427.6l-1.5 -1.2M525.8 427.3l-1.1 0.7M529.1 429.2l0.5 1.0M390.9 426.8l1.0 -0.5M400.2 429.2l0.7 -1.6M387.0 427.3l1.5 0.4M521.1 424.6l0.2 -1.0M431.3 424.9l-0.1 -1.5M484.8 427.9l1.3 0.9M389.0 429.2l0.1 1.4M457.7 424.5l0.7 -1.0M538.9 427.2l1.3 -0.0M430.4 428.0l0.7 -0.1M422.0 426.5l0.7 -0.9M402.5 426.9l0.5 -1.4M421.3 429.8l-0.7 0.9M426.9 424.5l-0.0 1.2M504.7 424.3l0.7 0.4M456.1 428.0l0.1 -1.0M491.3 424.8l-0.6 1.1M470.3 427.1l0.7 -0.0M439.9 427.3l-1.5 -0.5M383.0 430.0l1.3 0.5M402.6 429.1l-0.7 1.0M483.9 427.6l0.8 -0.7M514.1 427.3l0.8 1.1M418.5 426.5l-0.4 -1.4M521.0 428.1l-0.0 0.1M521.7 424.4l-0.5 0.6M464.7 427.0l-0.8 -0.9M487.1 426.0l1.4 1.3M536.6 425.7l0.0 -1.3M435.8 424.4l0.0 1.5M502.3 426.2l-0.7 1.4M385.2 429.1l1.1 -1.4M533.4 427.9l-0.4 -0.2M476.9 427.2l1.2 1.3M430.4 424.1l0.9 0.5M484.6 424.4l-1.4 1.3M436.5 426.8l1.5 -1.0M481.3 424.4l0.2 0.8M402.5 428.6l1.5 1.0M506.9 429.7l0.7 0.2M512.5 428.8l0.4 0.5M405.9 426.0l-0.6 1.1M505.4 425.7l1.6 -1.4M386.7 426.0l-1.4 1.4M435.7 426.3l1.1 0.1M480.5 426.6l-0.1 1.5M422.3 427.2l-0.1 -1.1M400.6 427.0l1.0 -0.2M386.2 429.6l-1.2 1.2M384.0 427.9l-1.1 -0.8M446.1 428.5l-0.2 -0.3M442.9 427.1l-0.7 1.4M407.9 424.8l0.2 -0.5M495.5 424.2l0.6 -0.4M529.5 425.8l-0.2 -0.6M464.5 425.7l0.5 -0.3M493.3 425.7l-0.1 0.2M495.1 427.9l-0.2 -1.3M395.0 424.9l-1.0 -1.0M485.7 426.0l1.3 -0.9M417.0 425.1l-1.1 0.6M471.9 425.5l1.0 0.6M447.2 427.6l0.5 -0.2M391.6 426.2l1.4 -0.4M481.9 424.5l0.9 1.2M438.1 426.2l0.0 -0.8M411.1 424.8l0.6 0.0M534.3 429.8l1.2 1.4M514.8 424.1l-1.2 1.5M520.7 427.7l0.4 -0.2M446.6 424.9l0.2 -0.7M396.6 429.2l0.2 1.2M425.0 427.5l-0.7 1.1M411.0 427.9l0.2 -0.6M389.7 426.9l0.1 1.0M410.0 425.1l-0.6 1.0M414.8 427.8l-1.5 -1.3M493.4 427.0l-1.2 -0.1M531.7 426.3l0.2 -0.3M459.9 424.3l1.2 0.3M433.8 425.7l-1.0 1.4M515.3 426.3l0.3 0.2M409.5 424.2l0.8 -1.1M469.7 424.1l-1.5 -1.1M484.3 427.7l1.6 0.5M462.7 424.1l1.5 -0.0M518.1 424.3l1.1 -0.1M412.3 426.4l-1.4 0.3M412.6 428.2l-1.0 0.6M478.4 428.3l1.4 -0.7M489.2 426.4l1.3 1.0M502.5 427.6l-0.8 1.3M536.4 429.7l-0.5 1.0M488.5 429.0l1.0 -0.1M441.7 428.8l0.5 0.1M520.7 424.2l-1.6 -0.1M392.6 429.1l-1.3 1.2M413.6 424.8l0.8 0.6M444.2 427.6l0.2 1.4M460.2 427.2l-0.1 -0.3M490.4 424.7l0.6 1.4M502.1 427.3l-0.5 -1.3M391.7 427.2l1.2 1.2M406.8 428.5l1.0 -0.1M518.1 425.1l-0.5 0.0M496.4 426.7l-0.6 1.2M441.2 426.5l-0.9 -0.1M493.0 426.2l0.5 -0.0M378.5 429.8l-0.7 0.1M534.7 425.2l-1.4 -0.9M401.7 429.1l0.1 -1.5M421.3 427.1l-1.0 -0.6M525.8 426.7l-0.9 0.3M395.1 427.1l0.5 -1.3M467.0 425.9l0.8 0.4M526.6 427.6l-1.0 -1.0M492.6 428.9l-1.4 -0.3M423.2 426.8l1.2 0.2M499.3 428.6l-0.7 0.4M438.4 426.8l0.1 0.5M404.3 429.0l-1.1 -0.6M516.6 429.9l-0.4 1.4M382.7 429.7l-1.0 -1.5M502.2 425.0l0.8 -1.6M396.9 426.1l-1.3 -0.1M433.6 428.4l-0.0 1.5M515.7 425.0l1.3 1.3M469.7 427.2l-1.1 -0.6M412.8 425.2l0.4 -0.6M503.2 427.4l1.0 -1.3M516.3 427.0l0.4 -0.8M491.3 426.4l0.7 0.3M399.6 425.8l0.8 -1.5M480.8 427.3l0.7 -0.5M455.2 426.9l0.8 -1.4M460.7 425.6l0.3 -0.8M410.5 425.4l1.3 -0.4M521.7 428.4l-0.7 0.2M377.9 429.6l0.4 -1.2M462.1 427.0l0.5 -0.7M526.6 427.7l-1.4 1.0M522.5 425.8l0.7 1.2M522.0 424.4l1.1 -0.8M508.8 428.1l-0.1 1.3M509.0 430.0l1.5 0.2M497.8 428.0l-0.3 -0.0M460.3 425.3l-0.8 1.1M516.1 428.2l0.6 0.0M471.1 428.0l-1.6 -0.2M536.5 425.2l-0.1 -1.4M418.6 428.9l-1.5 1.0M508.2 429.2l-0.8 1.4M437.8 426.7l1.4 0.1M488.8 424.7l-1.6 -0.8M393.9 428.9l-0.8 1.5M488.4 425.2l0.7 -0.6M463.4 424.5l1.1 0.9M472.3 428.1l-0.5 -1.2M430.1 428.4l0.2 -1.2M416.2 426.9l-1.6 -1.5M450.7 424.8l1.2 -1.2M500.1 428.8l-0.6 0.1M540.2 427.7l-0.4 1.5M419.3 429.7l-0.6 -0.3M428.6 427.9l1.2 0.6M406.5 429.9l0.7 0.0M516.7 424.6l0.3 0.9M504.6 428.0l-1.4 -0.1M420.8 427.6l-0.3 -0.1M465.3 427.5l1.2 -0.7M421.8 425.1l-1.2 1.1M528.2 424.8l-0.4 1.3M519.1 429.9l1.6 -0.6M387.5 425.5l0.0 -1.6M418.3 426.8l0.6 -1.1M396.8 426.0l-1.3 -1.2M393.5 428.8l1.2 -1.5M509.2 429.1l0.5 -0.6M511.8 424.5l-1.5 1.5M413.0 429.5l0.8 -1.5M392.1 427.9l-1.1 0.5M487.4 425.4l-0.1 -0.9M520.3 427.8l0.6 0.4M386.5 429.3l0.9 0.0M473.9 427.0l0.8 0.1M422.3 427.1l-0.9 -1.6M462.4 429.2l0.7 -0.9M460.4 427.5l0.3 -0.1M460.6 428.1l1.2 0.1M505.9 428.1l-1.2 -0.8M428.2 426.1l-0.0 -0.7M541.1 428.4l-0.4 0.6M529.1 425.0l0.4 1.5M438.4 429.3l1.0 -0.6M400.3 428.8l-0.3 -0.5M453.0 428.4l1.3 1.3M503.0 425.1l-0.4 -1.6M409.6 426.0l-1.0 -0.1M398.2 427.9l-0.3 -0.8M489.7 426.0l-1.5 1.1M500.9 429.3l-0.7 -0.8M491.4 424.9l1.5 0.5M467.0 424.3l-0.7 -0.2M538.3 424.9l0.3 -1.4M536.8 428.5l1.0 0.8M406.2 425.4l-1.5 0.2M389.9 425.1l-1.0 1.3M506.8 425.7l1.5 -1.1M399.7 426.3l1.0 -1.3M506.7 427.3l1.0 -0.5M383.5 424.6l0.7 0.0M502.5 425.2l-0.7 -0.9M516.9 428.2l-1.1 0.7M382.9 426.8l-0.8 0.8M495.1 428.1l-1.0 -1.5M482.1 428.2l-1.6 1.1M524.6 426.2l0.1 0.5M529.2 427.9l0.1 0.9M457.3 424.2l0.2 -0.3M431.8 426.4l-0.9 -0.6M499.8 429.3l-0.1 1.1M397.2 427.1l0.8 0.9M440.4 425.0l1.5 0.3M484.3 426.1l-1.2 0.2M443.3 429.3l0.5 0.8M470.5 428.5l-1.2 1.6M472.3 427.6l-1.0 -1.3M492.9 428.4l0.5 -0.8M456.8 428.6l0.4 1.3M391.2 428.6l-1.6 0.4M464.6 424.4l-0.3 0.5M519.6 424.5l0.0 0.9M395.8 429.4l1.4 -0.5M411.0 424.9l-0.9 -0.3M493.2 429.6l0.2 1.5M446.9 427.9l-1.6 -0.3M380.3 424.8l1.0 -1.2M426.0 427.2l0.1 -1.5M394.7 428.1l-0.3 -1.3M455.5 426.2l1.6 -1.4M406.2 424.4l0.2 1.5M504.8 424.7l0.1 -0.5M537.8 428.2l0.3 -0.8M448.5 427.2l-0.4 0.2M391.4 426.5l1.6 -0.3M460.0 428.5l1.0 0.8M439.4 428.3l-1.0 0.4M379.1 425.2l-1.0 -0.5M498.3 424.1l1.2 -1.3M533.3 429.7l0.4 1.1M531.7 426.7l1.1 -1.5M505.3 427.9l0.9 -1.1M390.2 427.1l0.3 0.6M406.1 427.4l1.5 -0.8M511.8 429.8l0.6 -0.2M445.5 426.8l-1.2 -1.4M422.7 425.0l1.3 -0.4M520.9 427.4l1.3 1.3M493.9 426.7l-0.8 0.2M427.9 429.0l-1.5 0.4M432.4 426.5l0.1 1.5M540.4 426.1l1.5 1.5M463.3 427.4l-1.0 0.9M456.6 428.6l1.3 0.4M491.2 427.3l-1.2 -0.1M386.8 425.1l1.5 -0.4M398.8 426.6l-1.4 0.3M414.2 425.3l0.4 1.4M378.7 428.3l0.3 -0.0M446.0 424.1l-0.5 0.1M431.8 430.0l-0.5 1.1M510.2 428.8l-0.0 -0.0M515.7 424.7l-0.9 -1.6M457.6 426.7l1.5 1.4M443.5 427.0l-1.3 0.8M462.2 425.0l1.2 -1.5M408.3 426.9l1.6 -1.2M420.5 428.7l-0.5 1.4M379.6 425.4l-0.6 1.1M393.4 428.0l1.2 1.5M509.5 424.3l-0.1 -0.9M396.6 425.5l0.8 0.2M398.0 425.7l-1.4 1.4M500.9 426.8l1.5 1.5M410.6 425.5l-1.0 0.4M474.7 427.1l0.9 0.1M428.4 428.0l1.4 -1.4M456.7 424.8l0.8 -0.2M514.9 428.0l1.5 0.3M474.8 429.8l1.0 -0.5M393.6 429.5l-1.4 1.4M530.5 428.0l1.4 0.3M499.6 427.6l-0.9 -1.3M499.1 426.7l-1.2 0.2M420.2 425.6l1.2 0.4M499.9 428.9l-0.2 -0.2M447.8 426.1l0.9 1.2M425.7 428.3l-0.9 -1.6M489.6 428.7l-0.5 1.6M495.1 425.9l0.8 1.1M399.6 429.5l-0.2 -0.7M438.8 427.2l0.1 -0.7M386.4 427.8l0.7 0.6M441.9 429.1l-1.5 -1.2M379.5 427.3l0.1 -0.9M463.2 424.0l-1.5 1.5M522.6 424.4l0.5 0.0M465.3 429.0l0.5 1.4M489.0 429.5l-1.2 1.0M429.2 429.5l0.9 1.5M501.1 426.3l0.1 0.9M386.1 427.2l0.2 0.7M432.9 427.6l0.8 -0.4M489.0 429.4l-0.4 0.1M456.3 429.0l-0.7 -0.7M441.3 427.9l-1.1 1.5M459.5 428.4l-0.3 -1.5M440.1 427.4l-1.3 1.5M473.4 426.8l-1.5 -0.8M432.1 427.9l-1.0 -0.0M421.2 427.4l0.6 0.1M500.3 427.7l-1.3 0.5M456.3 428.6l1.4 -0.5M516.8 425.4l0.5 -1.6M512.6 426.7l-0.1 -0.0M437.9 425.4l0.6 0.4M385.5 425.6l1.4 -0.7M424.9 427.5l-0.4 1.4M538.6 424.8l-0.9 -1.1M449.9 425.7l0.6 1.2M388.3 424.2l-1.2 -0.6M398.6 426.6l-0.4 0.7M536.1 429.9l-0.3 0.5M398.3 427.7l1.2 1.2M399.6 425.0l1.3 0.6M502.3 424.4l0.4 -1.5M498.1 428.8l-0.6 -1.6M497.4 430.0l0.4 -0.4M430.8 428.9l1.5 -0.4M413.0 430.0l-0.2 -0.2M427.8 428.3l1.5 -0.1M517.6 426.4l-0.2 1.0M536.7 428.5l0.7 1.0M528.2 429.7l0.1 -0.4M377.7 427.2l-0.5 -1.6M540.4 425.8l1.4 -1.5M435.9 428.7l0.6 0.6M457.0 424.5l1.1 0.8M455.3 427.4l1.0 -0.0M455.0 426.9l0.8 0.8M431.7 428.7l-0.4 0.6M438.8 429.4l1.4 0.9M439.4 426.1l-0.2 0.3M382.1 427.3l1.4 -1.4M523.6 427.4l1.6 0.7M495.1 428.5l-0.3 -1.2M517.5 429.3l0.7 -0.9M458.9 427.1l-0.4 -0.0M452.0 429.9l0.4 1.5M526.4 425.1l0.9 -0.4M475.1 427.4l0.8 -0.6M488.4 426.2l0.9 -0.0M482.6 430.0l-0.7 -1.6M524.3 427.1l0.5 1.1M523.4 426.3l1.6 -0.4M496.4 429.0l-0.4 -0.3M437.0 426.1l-0.3 1.1M386.5 429.9l0.9 0.2M482.5 425.8l0.8 1.2M439.5 427.0l-0.9 -0.8M517.1 427.9l-0.2 0.4M407.1 424.0l-0.5 0.2M407.0 427.3l-0.6 -0.8M498.6 426.2l0.8 0.8M438.5 424.2l1.1 0.2M472.2 428.1l0.2 1.3M377.9 429.8l0.4 -0.3M526.2 429.4l0.3 -1.6M479.4 426.5l0.2 1.1M398.3 429.1l-0.6 -0.8M382.7 424.6l-0.7 0.1M531.6 425.0l-0.7 -0.4M482.1 426.1l0.5 -1.1M383.7 427.5l0.7 -1.2M384.4 428.0l-1.4 1.4M490.5 425.0l-0.3 -1.4M391.0 426.1l1.2 1.3M500.8 427.8l0.3 0.0M484.7 427.0l-0.3 1.1M426.2 426.4l0.6 1.5M433.4 426.6l-0.3 -0.9M435.0 428.7l-1.0 -0.1M423.4 427.5l0.9 -1.2M456.8 425.1l0.5 0.6M413.0 425.4l-0.6 -0.5M523.8 429.2l0.9 -0.3M451.9 425.2l-0.1 1.4M391.6 426.4l-1.0 1.1M426.2 426.9l-1.4 0.6M461.3 428.8l0.7 0.8M419.9 425.5l0.3 -1.4M531.1 428.3l-0.0 -0.4M389.3 427.3l0.9 -1.2M392.8 428.1l-0.1 0.9M444.4 429.9l1.2 -0.6M465.0 427.5l-0.2 1.0M492.9 428.9l-0.8 0.0M466.2 427.5l-1.5 1.0M450.4 425.0l1.1 0.2M498.7 428.4l0.4 1.3M385.7 426.0l-1.1 0.4M412.7 424.2l-1.2 -1.0M465.6 426.7l-0.1 -1.6M463.7 425.5l-1.3 -1.4M401.4 426.4l-1.1 -0.1M403.5 428.4l1.2 -0.6M388.3 429.8l-1.3 0.5M501.3 426.9l1.3 -1.1M495.4 429.4l1.3 1.1M448.5 427.1l1.1 -0.4M418.6 424.2l-0.9 -1.2M529.8 425.9l-0.5 1.5M490.5 426.6l-1.3 -0.4M424.5 429.7l-0.3 1.5M421.1 424.3l1.3 -1.4M506.5 427.6l-0.7 1.1M447.3 429.9l0.2 1.4M530.0 426.3l0.6 0.7M484.6 424.1l0.6 0.8M408.5 424.6l-1.4 0.1M394.0 429.1l-0.3 1.6M497.6 426.6l-1.0 -0.2M476.7 429.2l1.3 -0.6M380.4 428.0l0.6 0.5M509.0 428.9l0.4 1.0M397.1 429.7l0.5 -1.3M404.3 427.8l-0.6 1.4M422.5 426.9l0.0 1.4M426.6 429.4l0.7 0.2M532.6 429.3l0.8 0.1M383.7 425.3l0.5 -1.2M482.6 426.1l-0.4 1.0M515.2 428.5l-0.2 0.1M539.1 429.6l0.3 -1.3M525.3 424.3l-1.2 0.5M408.9 428.5l0.6 -1.1M526.4 430.0l0.5 1.5M508.7 426.8l1.0 1.4M491.4 424.5l-0.4 0.7M436.9 425.0l-0.1 -1.1M454.8 424.6l0.7 -0.9M530.9 424.6l0.4 0.5M409.3 427.8l0.2 0.4M407.0 426.9l1.1 0.4M416.7 426.0l1.2 -1.4M455.4 427.1l-0.2 -1.6M394.1 429.1l-0.1 -0.7M451.0 424.3l-1.3 1.1M501.8 425.2l-0.6 -1.4M428.9 427.1l0.8 0.0M516.4 430.0l0.2 -1.5M398.7 428.0l-1.2 1.3M385.5 424.3l1.6 -0.3M468.1 427.6l-1.2 -0.5M437.4 428.4l0.9 0.6M406.3 426.8l1.3 -1.0M434.1 427.7l1.6 -1.5M490.5 426.8l0.1 1.1M392.3 427.6l-0.6 0.8M494.4 426.5l-1.1 0.8M492.1 427.4l0.8 1.4M416.8 428.1l1.0 -0.7M525.5 425.9l1.5 0.3M537.0 429.3l0.9 -0.4M452.1 427.5l1.0 -0.3M524.8 425.3l0.1 -1.1M404.7 425.7l-1.4 0.2M478.8 426.4l1.0 0.1M489.3 424.5l-0.5 -1.5M402.9 429.1l-1.2 0.3M438.8 428.0l1.2 1.1M535.7 429.8l-0.3 1.6M502.3 425.7l-0.5 0.1M516.0 424.6l1.3 0.5M474.3 426.4l-0.4 -0.3M494.6 426.7l0.7 1.2M390.8 424.1l1.4 -1.0M510.8 426.4l-0.9 -1.6M447.2 427.6l-1.4 -1.6M423.9 429.3l0.8 -0.8M443.1 426.5l0.7 -0.7M435.1 427.0l-0.8 -0.2M499.9 427.0l-1.4 -0.5M470.6 425.4l-0.4 0.2M436.6 425.1l1.2 -1.4M526.0 424.6l0.2 0.1M444.1 427.8l1.2 -0.6M386.4 425.2l1.2 0.3M500.9 426.3l-0.6 0.6M470.2 429.5l-1.1 -0.5M490.6 429.4l-0.1 0.9M394.6 427.8l-0.5 0.6M425.6 425.1l-0.7 0.7M494.0 429.5l-0.3 -1.4M509.9 425.5l0.7 -0.0M449.8 424.2l-0.9 0.8M452.4 429.3l1.0 0.1M538.7 424.0l-0.3 0.1M385.4 429.2l-1.1 0.3M421.2 426.3l-0.1 -0.7M404.8 428.0l0.4 -1.3M537.1 424.6l-0.9 -0.7M436.6 426.9l1.3 -1.3M471.2 427.7l-0.8 -0.5M449.9 429.3l0.9 -0.1M387.9 426.1l1.0 -0.2M441.0 427.8l-1.5 0.5M489.6 424.7l-0.3 1.1M419.8 427.2l-0.5 0.2M441.0 426.1l1.4 0.6" stroke-width="0.9" fill="none"/>
<path d="M542.0 448.4l-0.1 -0.4M541.2 450.0l0.6 -1.0M539.3 445.1l1.3 -0.4M541.7 460.1l-0.5 0.2M541.6 466.5l1.0 0.2M539.7 438.6l1.1 0.4M539.9 446.8l0.8 0.1M537.9 481.6l0.9 0.6M541.0 466.7l-0.4 1.5M541.4 465.4l-0.2 0.0M536.3 476.4l1.1 0.3M538.8 472.1l-1.5 -0.3M537.5 462.2l-0.5 0.3M541.4 452.2l-1.2 -1.6M541.0 455.2l-0.2 -1.5M536.6 431.5l1.3 -1.4M537.9 455.4l0.2 -0.9M539.9 463.8l1.6 -1.3M537.8 436.7l-0.7 -0.9M536.2 472.3l-0.7 0.8M540.9 471.7l-1.5 0.3M541.1 463.4l0.3 -0.2M540.9 458.4l-0.5 -0.0M538.8 441.0l0.6 1.1M539.9 432.0l-0.3 0.9M536.8 457.0l0.6 0.1M538.0 432.4l0.7 -1.1M539.6 458.0l0.7 -1.2M541.8 469.3l1.2 -1.0M540.3 450.6l0.6 0.6M538.5 479.4l-0.2 -0.1M540.3 439.1l1.3 -0.5M541.3 438.8l-1.2 0.3M537.4 453.7l-1.0 0.7M540.4 466.2l-1.2 -1.4M539.5 435.6l0.7 0.2M541.6 472.8l0.5 1.0M539.0 446.2l-1.4 0.7M540.0 463.4l0.0 -0.1M541.5 450.5l-1.2 1.4M540.6 476.8l1.6 -0.2M536.9 456.4l-0.0 -0.4M540.7 444.1l1.5 -0.9M537.7 473.4l-0.9 0.7M537.6 452.2l-0.1 -0.8M540.9 479.0l1.4 -1.1M536.2 453.7l0.8 0.2M541.8 481.4l0.6 -0.8M538.4 434.8l-0.3 0.8M537.9 440.8l0.1 1.3M539.9 437.1l-0.2 -0.9M540.9 452.6l-0.2 1.2M537.8 454.2l1.5 -0.6M539.2 464.2l-0.5 0.4M538.5 473.5l0.2 0.7M539.4 466.7l-0.4 -1.1M538.2 447.9l-1.6 0.9M539.1 455.7l0.7 -1.4M536.8 467.7l-1.5 1.2M539.0 480.3l1.1 -0.3M538.1 453.4l0.9 -0.1M540.3 481.6l0.8 0.0M540.5 456.4l0.3 -0.3M541.6 481.4l0.2 0.2M536.6 460.1l1.4 -0.8M540.6 444.4l0.7 -0.7M539.6 470.6l-1.5 1.1M539.1 443.8l-0.6 0.2M540.4 440.5l-1.4 -0.9M539.8 451.9l0.8 0.7M538.2 461.3l-1.1 0.3M539.9 443.4l0.5 -1.2M541.8 459.2l1.4 0.5M537.3 468.5l0.4 -0.4M540.2 469.9l0.6 -0.9M541.8 477.4l-0.2 1.4M542.0 448.9l-1.0 -0.8M538.9 438.8l-0.8 0.7M536.1 462.4l-0.3 0.7M537.6 455.7l-0.9 -1.5M541.2 450.0l-0.7 1.4M538.2 458.8l-1.2 -0.3M541.3 473.1l1.0 1.3M537.4 434.1l-1.2 0.5M539.3 450.1l0.7 -0.9M539.6 452.6l-1.2 0.9M537.1 471.9l0.8 -0.2M538.7 441.9l-1.2 0.6M538.2 459.9l-0.4 -0.7M537.0 470.0l-0.2 -1.1M541.2 439.3l-0.9 -1.1M539.4 470.8l-1.5 1.4M540.2 473.5l-0.3 -0.2M536.6 444.8l1.2 -0.7M541.4 473.6l1.3 -1.2M538.5 473.6l-0.6 -0.8M536.1 458.4l0.2 -0.9M537.6 463.5l-1.0 0.9M541.2 452.7l-1.2 0.2M537.8 436.8l0.7 0.2M537.6 444.0l0.7 1.3M538.1 461.1l-0.9 -0.1M539.5 446.9l0.3 0.1M536.3 437.5l-0.3 -1.1M539.3 461.5l0.4 1.2M539.6 470.5l-1.2 1.2M541.6 461.4l1.0 0.2M538.6 439.6l-0.1 0.7M540.8 476.6l0.1 1.4M538.2 432.4l-0.2 0.1M540.6 443.3l-1.5 0.7M537.1 474.5l0.2 -1.2M539.1 470.5l-0.9 1.5M536.3 439.0l0.3 0.6M539.6 478.1l-1.0 -1.5M539.2 449.2l-0.3 -0.3M541.3 445.9l0.6 0.2M537.7 477.6l-0.8 -0.6M537.2 466.9l0.6 -0.4M536.7 461.6l-0.5 0.2M539.9 431.6l-1.5 1.0M541.2 435.9l-0.9 -0.2M541.0 447.1l1.5 -1.3M541.4 434.4l0.3 1.5M540.3 477.6l-0.5 1.5M541.4 445.4l0.9 1.3M537.3 451.3l0.9 0.2M541.5 453.4l-0.2 -1.1M537.6 475.7l-0.8 1.3M540.8 460.3l-0.6 -1.6M536.7 473.3l1.5 1.5M537.7 478.8l-0.2 -0.4M541.5 472.9l0.6 -0.7M536.6 440.7l-0.8 -1.0M539.4 447.4l-0.9 1.2M538.2 431.7l-1.6 0.2M536.2 459.6l-1.5 -0.1M539.7 458.8l-0.9 1.1M541.8 472.6l1.4 1.5M538.2 458.9l-0.3 0.9M537.0 442.9l-0.2 0.1M541.9 448.5l-1.6 -0.4M541.3 436.3l0.1 0.3M541.0 448.0l0.3 1.4M541.8 460.0l-0.5 0.5M540.4 465.9l0.6 -0.4M540.3 449.3l-0.9 -1.3M539.3 440.1l-0.7 -0.6M538.2 452.5l1.5 0.1M539.3 451.7l0.2 1.0M539.1 457.4l-0.5 -1.0M537.3 436.0l-0.7 -1.5M538.5 460.4l-1.2 0.8M538.7 463.0l-0.2 0.9M540.1 437.6l0.2 -0.8M540.5 450.2l-0.9 -1.5M541.9 437.5l-0.8 1.4M536.3 452.2l-0.2 0.6M540.7 480.7l-0.6 -1.3M537.3 431.7l-0.7 0.4M541.4 436.5l-0.7 1.2M539.5 451.7l-1.4 -1.4M537.3 462.6l-1.4 0.0M540.9 431.6l-0.7 -0.3M539.7 468.7l0.6 -0.2M538.0 463.1l-0.1 1.4" stroke-width="0.9" fill="none"/>
<line x1="385" y1="436.3" x2="530" y2="436.3" stroke-width="1.0"/>
<circle cx="404.6" cy="436.3" r="4.1" fill="none" stroke-width="1.9"/>
<line x1="404.6" y1="428" x2="404.6" y2="445" stroke-width="1.4"/>
<circle cx="419.3" cy="436.3" r="4.1" fill="none" stroke-width="1.9"/>
<line x1="419.3" y1="428" x2="419.3" y2="445" stroke-width="1.4"/>
<circle cx="434.5" cy="436.3" r="4.1" fill="none" stroke-width="1.9"/>
<line x1="434.5" y1="428" x2="434.5" y2="445" stroke-width="1.4"/>
<circle cx="449.5" cy="436.3" r="4.1" fill="none" stroke-width="1.9"/>
<line x1="449.5" y1="428" x2="449.5" y2="445" stroke-width="1.4"/>
<circle cx="464.3" cy="436.3" r="4.1" fill="none" stroke-width="1.9"/>
<line x1="464.3" y1="428" x2="464.3" y2="445" stroke-width="1.4"/>
<circle cx="479.5" cy="436.3" r="4.1" fill="none" stroke-width="1.9"/>
<line x1="479.5" y1="428" x2="479.5" y2="445" stroke-width="1.4"/>
<circle cx="495.1" cy="436.3" r="4.1" fill="none" stroke-width="1.9"/>
<line x1="495.1" y1="428" x2="495.1" y2="445" stroke-width="1.4"/>
<circle cx="509.4" cy="436.3" r="4.1" fill="none" stroke-width="1.9"/>
<line x1="509.4" y1="428" x2="509.4" y2="445" stroke-width="1.4"/>
<circle cx="525.1" cy="436.3" r="4.1" fill="none" stroke-width="1.9"/>
<line x1="525.1" y1="428" x2="525.1" y2="445" stroke-width="1.4"/>
<line x1="373.6" y1="413" x2="545" y2="413" stroke-width="1.8"/>
<line x1="374.7" y1="407.5" x2="374.7" y2="420" stroke-width="1.6"/>
<line x1="404.6" y1="407.5" x2="404.6" y2="420" stroke-width="1.6"/>
<line x1="419.3" y1="407.5" x2="419.3" y2="420" stroke-width="1.6"/>
<line x1="435" y1="407.5" x2="435" y2="420" stroke-width="1.6"/>
<line x1="450" y1="407.5" x2="450" y2="420" stroke-width="1.6"/>
<line x1="464.9" y1="407.5" x2="464.9" y2="420" stroke-width="1.6"/>
<line x1="479.7" y1="407.5" x2="479.7" y2="420" stroke-width="1.6"/>
<line x1="495.3" y1="407.5" x2="495.3" y2="420" stroke-width="1.6"/>
<line x1="509.4" y1="407.5" x2="509.4" y2="420" stroke-width="1.6"/>
<line x1="525" y1="407.5" x2="525" y2="420" stroke-width="1.6"/>
<line x1="543.3" y1="407.5" x2="543.3" y2="420" stroke-width="1.6"/>
<text transform="translate(384.5,409.6)" x="0" y="0" font-size="8.19" textLength="16.30" lengthAdjust="spacingAndGlyphs" stroke-width="0.6">296</text>
<text transform="translate(407.3,409.6)" x="0" y="0" font-size="8.19" textLength="12.50" lengthAdjust="spacingAndGlyphs" stroke-width="0.6">150</text>
<text transform="translate(422.6,409.6)" x="0" y="0" font-size="8.19" textLength="12.50" lengthAdjust="spacingAndGlyphs" stroke-width="0.6">150</text>
<text transform="translate(437.5,409.6)" x="0" y="0" font-size="8.19" textLength="12.00" lengthAdjust="spacingAndGlyphs" stroke-width="0.6">150</text>
<text transform="translate(452,409.6)" x="0" y="0" font-size="8.19" textLength="12.00" lengthAdjust="spacingAndGlyphs" stroke-width="0.6">150</text>
<text transform="translate(467,409.6)" x="0" y="0" font-size="8.19" textLength="12.00" lengthAdjust="spacingAndGlyphs" stroke-width="0.6">150</text>
<text transform="translate(482,409.6)" x="0" y="0" font-size="8.19" textLength="12.00" lengthAdjust="spacingAndGlyphs" stroke-width="0.6">150</text>
<text transform="translate(497,409.6)" x="0" y="0" font-size="8.19" textLength="12.00" lengthAdjust="spacingAndGlyphs" stroke-width="0.6">150</text>
<text transform="translate(512,409.6)" x="0" y="0" font-size="8.19" textLength="12.00" lengthAdjust="spacingAndGlyphs" stroke-width="0.6">150</text>
<text transform="translate(528,409.6)" x="0" y="0" font-size="8.19" textLength="12.00" lengthAdjust="spacingAndGlyphs" stroke-width="0.6">175</text>
<text transform="translate(465,420.5)" x="0" y="0" font-size="9.03" textLength="8.00" lengthAdjust="spacingAndGlyphs" stroke-width="0.8">150</text>
<line x1="394.3" y1="419" x2="394.3" y2="438" stroke-width="1.2"/>
<line x1="322.7" y1="420" x2="322.7" y2="480" stroke-width="1.8"/>
<line x1="339.7" y1="418" x2="339.7" y2="480" stroke-width="1.8"/>
<line x1="357.4" y1="417" x2="357.4" y2="443" stroke-width="1.8"/>
<line x1="312.5" y1="423.4" x2="365.6" y2="423.4" stroke-width="2"/>
<line x1="312.5" y1="473.1" x2="374.4" y2="473.1" stroke-width="2"/>
<line x1="334" y1="447.9" x2="346" y2="447.9" stroke-width="1.8"/>
<line x1="350" y1="433.6" x2="366" y2="433.6" stroke-width="1.2"/>
<line x1="350" y1="436" x2="366" y2="436" stroke-width="1.2"/>
<text transform="translate(318.6,455.4) rotate(-90) scale(0.8,1)" x="0.00" y="0" font-size="8.47" textLength="19.62" lengthAdjust="spacing" stroke-width="0.6">500</text>
<text transform="translate(336.3,442.4) rotate(-90) scale(0.8,1)" x="0.00" y="0" font-size="9.44" textLength="19.50" lengthAdjust="spacing" stroke-width="0.6">244</text>
<text transform="translate(336.3,467.6) rotate(-90) scale(0.8,1)" x="0.00" y="0" font-size="9.44" textLength="19.50" lengthAdjust="spacing" stroke-width="0.6">260</text>
<text transform="translate(352.7,445.2) rotate(-90)" x="0" y="0" font-size="7.64" textLength="7.50" lengthAdjust="spacingAndGlyphs" stroke-width="0.6">15</text>
<text transform="translate(352.7,432.9) rotate(-90)" x="0" y="0" font-size="7.64" textLength="8.90" lengthAdjust="spacingAndGlyphs" stroke-width="0.1">105</text>
<text transform="translate(366.3,442.4)" x="0" y="0" font-size="8.47" textLength="6.80" lengthAdjust="spacingAndGlyphs" stroke-width="0.6">30</text>
<text transform="translate(381.2,454.7) rotate(-90)" x="0" y="0" font-size="8.47" textLength="8.90" lengthAdjust="spacingAndGlyphs" stroke-width="0.2">35</text>
<line x1="376" y1="437" x2="376" y2="452" stroke-width="0.9"/>
<line x1="378" y1="437" x2="378" y2="452" stroke-width="0.9"/>
<line x1="380" y1="437" x2="380" y2="452" stroke-width="0.9"/>
<rect x="391" y="442.3" width="19" height="9.8" fill="#fff" stroke-width="2"/>
<line x1="388" y1="447.2" x2="413" y2="447.2" stroke-width="1.2"/>
<line x1="399" y1="444" x2="399" y2="451" stroke-width="1"/>
<text transform="translate(345,493) scale(0.8,1)" x="0.00" y="0" font-size="9.72" textLength="18.75" lengthAdjust="spacing" stroke-width="0.6">П-3</text>
<line x1="338" y1="494.7" x2="364" y2="494.7" stroke-width="1.8"/>
<line x1="364" y1="494.7" x2="397" y2="452" stroke-width="1.6"/>
<text transform="translate(473.4,456.5) scale(0.8,1)" x="0.00" y="0" font-size="9.44" textLength="27.13" lengthAdjust="spacing" stroke-width="0.6">Ф100</text>
<line x1="469.3" y1="458.8" x2="497.2" y2="458.8" stroke-width="1.8"/>
<line x1="497.2" y1="458.8" x2="506.7" y2="442.2" stroke-width="1.6"/>
<circle cx="505.5" cy="444.5" r="1" fill="#111" stroke-width="0"/>
<rect x="516.8" y="449.6" width="15.9" height="8.4" fill="#fff" stroke-width="2.4"/>
<line x1="521" y1="450" x2="521" y2="457" stroke-width="1.1"/>
<line x1="527" y1="450" x2="527" y2="457" stroke-width="1.1"/>
<line x1="518" y1="453.5" x2="531" y2="453.5" stroke-width="1.1"/>
<line x1="563.6" y1="417" x2="563.6" y2="490" stroke-width="1.8"/>
<line x1="583.2" y1="417" x2="583.2" y2="490" stroke-width="1.8"/>
<line x1="547" y1="422.6" x2="591.7" y2="422.6" stroke-width="2"/>
<line x1="547" y1="483.7" x2="591" y2="483.7" stroke-width="2"/>
<line x1="555" y1="454" x2="568" y2="454" stroke-width="1.8"/>
<text transform="translate(560,445.5) rotate(-90) scale(0.8,1)" x="0.00" y="0" font-size="8.47" textLength="18.37" lengthAdjust="spacing" stroke-width="0.6">300</text>
<text transform="translate(560,477.8) rotate(-90) scale(0.8,1)" x="0.00" y="0" font-size="8.47" textLength="18.25" lengthAdjust="spacing" stroke-width="0.6">315</text>
<text transform="translate(579.3,458.6) rotate(-90) scale(0.8,1)" x="0.00" y="0" font-size="9.58" textLength="19.38" lengthAdjust="spacing" stroke-width="0.6">615</text>
<line x1="479.5" y1="468" x2="479.5" y2="483" stroke-width="1.2"/>
<line x1="473" y1="475.6" x2="487" y2="475.6" stroke-width="1.2"/>
<text transform="translate(474,481.7) rotate(-90)" x="0" y="0" font-size="6.53" textLength="9.50" lengthAdjust="spacingAndGlyphs" stroke-width="0.6">44</text>
<text transform="translate(503.3,486.5) rotate(-90)" x="0" y="0" font-size="7.50" textLength="7.50" lengthAdjust="spacingAndGlyphs" stroke-width="0.6">15</text>
<line x1="509.4" y1="470" x2="509.4" y2="490" stroke-width="1.1"/>
<line x1="504" y1="477" x2="514" y2="477" stroke-width="1.1"/>
<text transform="translate(517.6,474.2) rotate(-90)" x="0" y="0" font-size="8.47" textLength="6.80" lengthAdjust="spacingAndGlyphs" stroke-width="0.6">35</text>
<line x1="520.3" y1="470" x2="520.3" y2="490" stroke-width="1.1"/>
<line x1="515" y1="478.7" x2="530" y2="478.7" stroke-width="1.1"/>
<line x1="515" y1="480.7" x2="530" y2="480.7" stroke-width="1.1"/>
<text transform="translate(515.5,492) rotate(-90)" x="0" y="0" font-size="7.64" textLength="8.00" lengthAdjust="spacingAndGlyphs" stroke-width="0.6">30</text>
<text transform="translate(522.4,493.3)" x="0" y="0" font-size="7.64" textLength="6.00" lengthAdjust="spacingAndGlyphs" stroke-width="0.5">15</text>
<line x1="529.5" y1="487" x2="529.5" y2="500" stroke-width="1.3"/>
<text transform="translate(531,493.3)" x="0" y="0" font-size="7.64" textLength="14.00" lengthAdjust="spacingAndGlyphs" stroke-width="0.5">100</text>
<line x1="520" y1="495.3" x2="548" y2="495.3" stroke-width="1.1"/>
<line x1="530" y1="494" x2="530" y2="500" stroke-width="0.9"/>
<line x1="533" y1="494" x2="533" y2="500" stroke-width="0.9"/>
<line x1="375.6" y1="485" x2="375.6" y2="520" stroke-width="1.8"/>
<line x1="384" y1="495" x2="384" y2="530" stroke-width="1.8"/>
<line x1="372" y1="510.4" x2="548" y2="510.4" stroke-width="2"/>
<line x1="492" y1="503" x2="492" y2="516" stroke-width="1.8"/>
<line x1="543" y1="490" x2="543" y2="530" stroke-width="1.8"/>
<line x1="378" y1="524.5" x2="548" y2="524.5" stroke-width="2"/>
<text transform="translate(377,509)" x="0" y="0" font-size="9.72" textLength="6.00" lengthAdjust="spacingAndGlyphs" stroke-width="0.6">15</text>
<text transform="translate(430,507.7) scale(0.8,1)" x="0.00" y="0" font-size="9.72" textLength="26.25" lengthAdjust="spacing" stroke-width="0.6">1095</text>
<text transform="translate(512,507.7) scale(0.8,1)" x="0.00" y="0" font-size="9.72" textLength="19.25" lengthAdjust="spacing" stroke-width="0.6">500</text>
<text transform="translate(460.4,523.4) scale(0.8,1)" x="0.00" y="0" font-size="11.39" textLength="26.50" lengthAdjust="spacing" stroke-width="0.6">1595</text>
<text transform="translate(296.4,523)" x="0" y="0" font-size="14.58" textLength="77.10" lengthAdjust="spacingAndGlyphs" stroke-width="0.4">НБУ-16.22.5-2</text>
<text transform="translate(393.5,540) scale(0.8,1)" x="0.00" y="0" font-size="14.86" textLength="46.88" lengthAdjust="spacing" stroke-width="0.4">По 1-1</text>
</svg></body></html>
